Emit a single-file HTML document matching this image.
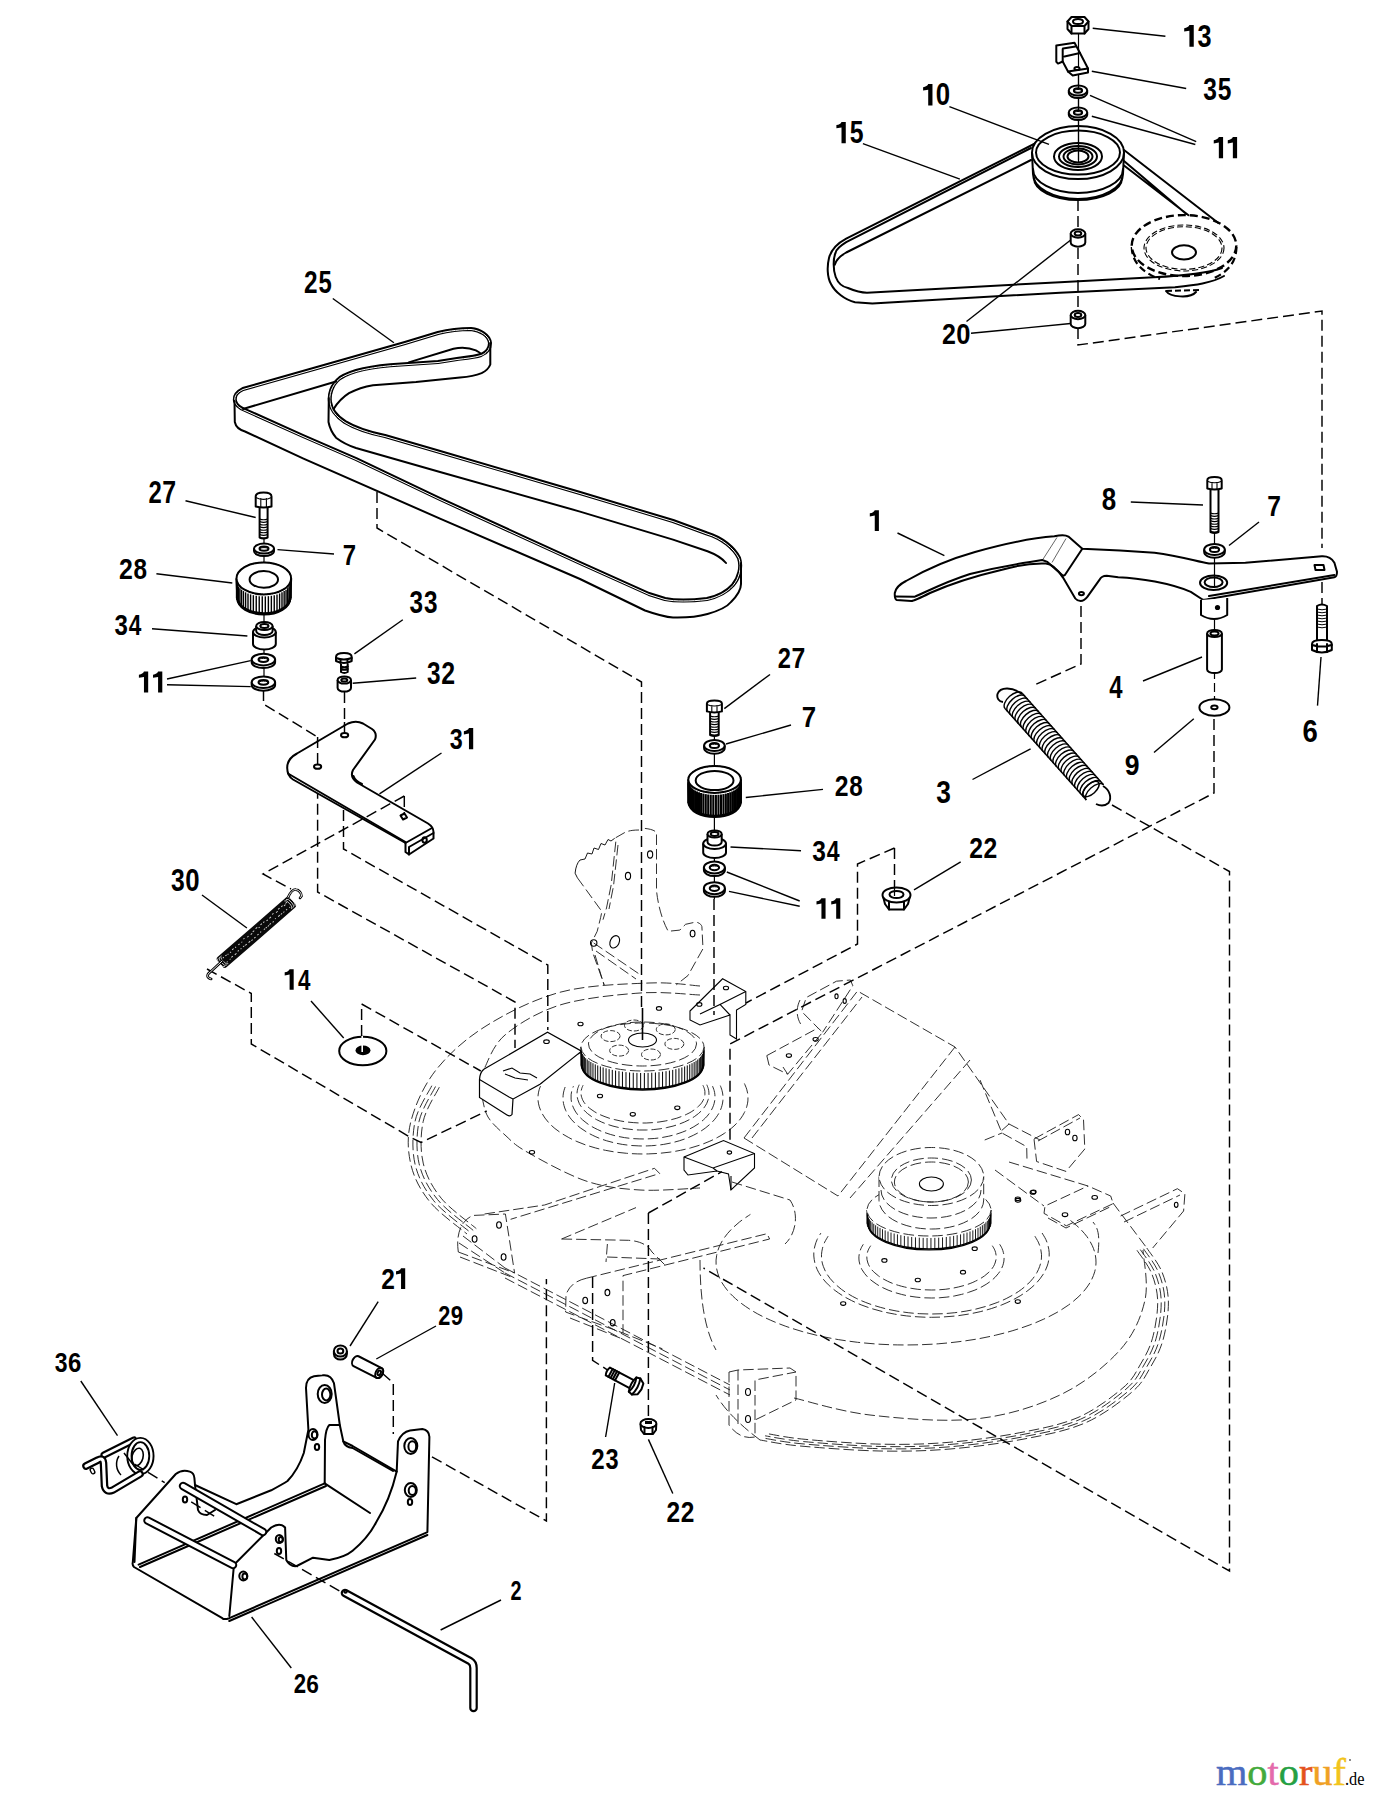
<!DOCTYPE html>
<html><head><meta charset="utf-8"><title>Parts diagram</title>
<style>
html,body{margin:0;padding:0;background:#fff;}
svg{display:block;}
.s{stroke:#000;stroke-width:2;fill:none;stroke-linejoin:round;stroke-linecap:round;}
.sw{stroke:#000;stroke-width:2;fill:#fff;stroke-linejoin:round;}
.t{stroke:#000;stroke-width:1.4;fill:none;}
.h{stroke:#000;stroke-width:1.1;fill:none;}
.d{stroke:#000;stroke-width:1.45;fill:none;stroke-dasharray:11 5;}
.p{stroke:#1a1a1a;stroke-width:0.9;fill:none;stroke-dasharray:10.5 4;}
.pw{stroke:#1a1a1a;stroke-width:0.9;fill:#fff;stroke-dasharray:10.5 4;}
text{font-family:"Liberation Sans",sans-serif;font-weight:bold;fill:#000;}
.logo{font-family:"Liberation Serif",serif;font-weight:normal;}
</style></head><body>
<svg width="1376" height="1800" viewBox="0 0 1376 1800">
<rect x="0" y="0" width="1376" height="1800" fill="#fff"/>
<g id="deck">
<path d="M700.0,986.0 C691.5,985.5 672.2,982.0 649.0,983.0 C625.8,984.0 588.2,984.8 561.0,992.0 C533.8,999.2 506.8,1013.0 486.0,1026.0 C465.2,1039.0 448.5,1054.2 436.0,1070.0 C423.5,1085.8 415.2,1105.2 411.0,1121.0 C406.8,1136.8 407.8,1151.5 411.0,1165.0 C414.2,1178.5 420.7,1190.5 430.0,1202.0 C439.3,1213.5 460.8,1228.7 467.0,1234.0" class="p"/>
<path d="M431.8,1085.7 C429.0,1091.6 417.8,1108.0 415.1,1121.1 C412.3,1134.2 412.0,1151.1 415.1,1164.4 C418.2,1177.6 424.6,1189.4 433.7,1200.7 C442.9,1212.0 464.0,1227.0 470.1,1232.2" class="p"/>
<path d="M435.5,1086.5 C432.8,1092.3 421.9,1108.4 419.1,1121.2 C416.4,1134.1 416.1,1150.7 419.1,1163.7 C422.2,1176.8 428.5,1188.4 437.5,1199.5 C446.5,1210.6 467.3,1225.2 473.2,1230.4" class="p"/>
<path d="M439.3,1087.2 C436.6,1092.9 425.9,1108.7 423.2,1121.4 C420.5,1134.0 420.2,1150.3 423.2,1163.1 C426.2,1175.9 432.4,1187.3 441.2,1198.2 C450.1,1209.1 470.5,1223.5 476.3,1228.6" class="p"/>
<path d="M700.0,995.0 C690.0,994.7 663.3,991.3 640.0,993.0 C616.7,994.7 582.5,998.0 560.0,1005.0 C537.5,1012.0 517.7,1024.3 505.0,1035.0 C492.3,1045.7 487.5,1063.3 484.0,1069.0" class="p"/>
<path d="M482.0,1097.0 C483.0,1100.3 484.2,1110.7 488.0,1117.0 C491.8,1123.3 498.5,1129.2 505.0,1135.0 C511.5,1140.8 513.5,1144.3 527.0,1152.0 C540.5,1159.7 567.2,1174.7 586.0,1181.0 C604.8,1187.3 621.0,1188.8 640.0,1190.0 C659.0,1191.2 690.0,1188.3 700.0,1188.0" class="p"/>
<path d="M1146.8,1248.0 C1149.3,1252.0 1158.4,1263.0 1162.0,1272.0 C1165.6,1281.0 1168.2,1290.7 1168.4,1302.0 C1168.6,1313.3 1166.1,1329.0 1163.0,1340.0 C1159.9,1351.0 1155.2,1359.3 1150.0,1368.0 C1144.8,1376.7 1142.8,1382.8 1132.0,1392.0 C1121.2,1401.2 1103.0,1415.2 1085.0,1423.0 C1067.0,1430.8 1046.5,1434.7 1024.0,1439.0 C1001.5,1443.3 974.0,1447.0 950.0,1449.0 C926.0,1451.0 905.0,1451.5 880.0,1451.0 C855.0,1450.5 820.0,1447.8 800.0,1446.0 C780.0,1444.2 766.7,1441.0 760.0,1440.0" class="p"/>
<path d="M1143.5,1248.8 C1146.0,1252.7 1155.0,1263.6 1158.5,1272.4 C1162.1,1281.3 1164.7,1290.8 1164.8,1302.0 C1165.0,1313.1 1162.5,1328.6 1159.5,1339.4 C1156.5,1350.2 1151.8,1358.4 1146.7,1367.0 C1141.6,1375.5 1139.6,1381.6 1129.0,1390.6 C1118.3,1399.6 1100.4,1413.4 1082.7,1421.2 C1064.9,1428.9 1044.8,1432.6 1022.6,1436.9 C1000.4,1441.2 973.3,1444.8 949.7,1446.8 C926.1,1448.7 905.4,1449.2 880.8,1448.7 C856.1,1448.2 821.7,1445.6 802.0,1443.8 C782.2,1442.0 769.1,1438.9 762.5,1437.9" class="p"/>
<path d="M1140.3,1249.6 C1142.8,1253.4 1151.5,1264.1 1155.0,1272.8 C1158.5,1281.6 1161.1,1290.9 1161.2,1301.9 C1161.4,1312.9 1159.0,1328.1 1156.0,1338.8 C1153.0,1349.5 1148.4,1357.6 1143.4,1366.0 C1138.4,1374.4 1136.4,1380.3 1125.9,1389.2 C1115.4,1398.1 1097.8,1411.7 1080.3,1419.3 C1062.9,1426.9 1043.0,1430.6 1021.2,1434.8 C999.4,1439.0 972.7,1442.6 949.4,1444.5 C926.1,1446.5 905.8,1447.0 881.5,1446.5 C857.2,1446.0 823.3,1443.4 803.9,1441.6 C784.5,1439.8 771.6,1436.8 765.1,1435.8" class="p"/>
<path d="M1137.0,1250.3 C1139.5,1254.2 1148.1,1264.7 1151.6,1273.3 C1155.0,1281.9 1157.5,1291.1 1157.7,1301.9 C1157.8,1312.7 1155.4,1327.7 1152.5,1338.2 C1149.6,1348.7 1145.0,1356.7 1140.1,1364.9 C1135.2,1373.2 1133.3,1379.1 1122.9,1387.9 C1112.6,1396.6 1095.2,1410.0 1078.0,1417.5 C1060.8,1424.9 1041.3,1428.6 1019.8,1432.7 C998.3,1436.9 972.0,1440.4 949.1,1442.3 C926.2,1444.2 906.1,1444.7 882.2,1444.2 C858.4,1443.7 825.0,1441.2 805.9,1439.4 C786.8,1437.7 774.0,1434.7 767.6,1433.7" class="p"/>
<path d="M505,1268 L730,1385" class="p"/>
<path d="M505,1273 L730,1390" class="p"/>
<path d="M505,1278 L730,1395" class="p"/>
<path d="M463,1236 L505,1268 M459,1243 L505,1273" class="p"/>
<path d="M729,1372 L729,1425 Q740,1440 755,1437 L755,1420 L796,1400 L796,1372 L790,1368 L738,1370 Z" class="p"/>
<path d="M738,1370 L738,1428 M755,1420 L755,1380 L796,1372" class="p"/>
<ellipse cx="748.0" cy="1392.0" rx="2.5" ry="3.5" class="h" />
<ellipse cx="748.0" cy="1419.0" rx="2.5" ry="3.5" class="h" />
<path d="M760,1440 C740,1425 725,1410 716,1395" class="p"/>
<path d="M744.4,1083.5 C744.8,1084.5 746.1,1087.3 746.7,1089.2 C747.3,1091.2 747.7,1093.1 747.9,1095.1 C748.0,1097.0 748.0,1099.0 747.9,1100.9 C747.7,1102.9 747.3,1104.8 746.7,1106.8 C746.1,1108.7 745.4,1110.6 744.4,1112.5 C743.5,1114.4 742.3,1116.2 741.0,1118.1 C739.7,1119.9 738.2,1121.7 736.6,1123.4 C734.9,1125.2 733.1,1126.9 731.1,1128.5 C729.1,1130.1 726.9,1131.7 724.6,1133.2 C722.3,1134.8 719.8,1136.2 717.2,1137.6 C714.7,1139.0 711.9,1140.3 709.1,1141.5 C706.2,1142.7 703.3,1143.9 700.2,1145.0 C697.1,1146.0 693.9,1147.0 690.7,1147.9 C687.4,1148.8 684.0,1149.6 680.6,1150.3 C677.2,1151.0 673.7,1151.6 670.2,1152.1 C666.6,1152.6 663.0,1153.0 659.4,1153.3 C655.8,1153.6 652.1,1153.8 648.5,1153.9 C644.8,1154.0 641.2,1154.0 637.5,1153.9 C633.9,1153.8 630.2,1153.6 626.6,1153.3 C623.0,1153.0 619.4,1152.6 615.8,1152.1 C612.3,1151.6 608.8,1151.0 605.4,1150.3 C602.0,1149.6 598.6,1148.8 595.3,1147.9 C592.1,1147.0 588.9,1146.0 585.8,1145.0 C582.7,1143.9 579.8,1142.7 576.9,1141.5 C574.1,1140.3 571.3,1139.0 568.8,1137.6 C566.2,1136.2 563.7,1134.8 561.4,1133.2 C559.1,1131.7 556.9,1130.1 554.9,1128.5 C552.9,1126.9 551.1,1125.2 549.4,1123.4 C547.8,1121.7 546.3,1119.9 545.0,1118.1 C543.7,1116.2 542.5,1114.4 541.6,1112.5 C540.6,1110.6 539.9,1108.7 539.3,1106.8 C538.7,1104.8 538.3,1102.9 538.1,1100.9 C538.0,1099.0 538.0,1097.0 538.1,1095.1 C538.3,1093.1 538.7,1091.2 539.3,1089.2 C539.9,1087.3 541.2,1084.5 541.6,1083.5" class="p"/>
<path d="M720.3,1085.6 C720.6,1086.4 721.6,1088.8 722.0,1090.5 C722.5,1092.1 722.7,1093.8 722.9,1095.5 C723.0,1097.2 723.0,1098.8 722.9,1100.5 C722.7,1102.2 722.5,1103.9 722.0,1105.5 C721.6,1107.2 721.0,1108.8 720.3,1110.4 C719.6,1112.0 718.7,1113.6 717.7,1115.2 C716.7,1116.8 715.5,1118.3 714.3,1119.8 C713.0,1121.3 711.6,1122.7 710.1,1124.1 C708.6,1125.5 706.9,1126.9 705.2,1128.2 C703.4,1129.5 701.5,1130.8 699.6,1131.9 C697.6,1133.1 695.5,1134.3 693.3,1135.3 C691.2,1136.4 688.9,1137.3 686.6,1138.3 C684.2,1139.2 681.8,1140.0 679.3,1140.8 C676.8,1141.5 674.3,1142.2 671.7,1142.8 C669.1,1143.4 666.4,1143.9 663.7,1144.4 C661.0,1144.8 658.3,1145.1 655.5,1145.4 C652.8,1145.7 650.0,1145.8 647.2,1145.9 C644.4,1146.0 641.6,1146.0 638.8,1145.9 C636.0,1145.8 633.2,1145.7 630.5,1145.4 C627.7,1145.1 625.0,1144.8 622.3,1144.4 C619.6,1143.9 616.9,1143.4 614.3,1142.8 C611.7,1142.2 609.2,1141.5 606.7,1140.8 C604.2,1140.0 601.8,1139.2 599.4,1138.3 C597.1,1137.3 594.8,1136.4 592.7,1135.3 C590.5,1134.3 588.4,1133.1 586.4,1131.9 C584.5,1130.8 582.6,1129.5 580.8,1128.2 C579.1,1126.9 577.4,1125.5 575.9,1124.1 C574.4,1122.7 573.0,1121.3 571.7,1119.8 C570.5,1118.3 569.3,1116.8 568.3,1115.2 C567.3,1113.6 566.4,1112.0 565.7,1110.4 C565.0,1108.8 564.4,1107.2 564.0,1105.5 C563.5,1103.9 563.3,1102.2 563.1,1100.5 C563.0,1098.8 563.0,1097.2 563.1,1095.5 C563.3,1093.8 563.5,1092.1 564.0,1090.5 C564.4,1088.8 565.4,1086.4 565.7,1085.6" class="p"/>
<path d="M712.5,1086.1 C712.8,1086.8 713.7,1089.0 714.1,1090.4 C714.5,1091.9 714.8,1093.3 714.9,1094.8 C715.0,1096.3 715.0,1097.7 714.9,1099.2 C714.8,1100.7 714.5,1102.1 714.1,1103.6 C713.7,1105.0 713.2,1106.5 712.5,1107.9 C711.9,1109.3 711.1,1110.7 710.2,1112.1 C709.3,1113.4 708.3,1114.8 707.2,1116.1 C706.0,1117.4 704.8,1118.6 703.4,1119.9 C702.0,1121.1 700.5,1122.3 699.0,1123.4 C697.4,1124.6 695.7,1125.7 693.9,1126.7 C692.1,1127.7 690.3,1128.7 688.3,1129.6 C686.4,1130.6 684.3,1131.4 682.2,1132.2 C680.1,1133.0 677.9,1133.8 675.7,1134.4 C673.5,1135.1 671.1,1135.7 668.8,1136.2 C666.5,1136.7 664.1,1137.2 661.6,1137.6 C659.2,1137.9 656.7,1138.3 654.3,1138.5 C651.8,1138.7 649.3,1138.9 646.8,1138.9 C644.3,1139.0 641.7,1139.0 639.2,1138.9 C636.7,1138.9 634.2,1138.7 631.7,1138.5 C629.3,1138.3 626.8,1137.9 624.4,1137.6 C621.9,1137.2 619.5,1136.7 617.2,1136.2 C614.9,1135.7 612.5,1135.1 610.3,1134.4 C608.1,1133.8 605.9,1133.0 603.8,1132.2 C601.7,1131.4 599.6,1130.6 597.7,1129.6 C595.7,1128.7 593.9,1127.7 592.1,1126.7 C590.3,1125.7 588.6,1124.6 587.0,1123.4 C585.5,1122.3 584.0,1121.1 582.6,1119.9 C581.2,1118.6 580.0,1117.4 578.8,1116.1 C577.7,1114.8 576.7,1113.4 575.8,1112.1 C574.9,1110.7 574.1,1109.3 573.5,1107.9 C572.8,1106.5 572.3,1105.0 571.9,1103.6 C571.5,1102.1 571.2,1100.7 571.1,1099.2 C571.0,1097.7 571.0,1096.3 571.1,1094.8 C571.2,1093.3 571.5,1091.9 571.9,1090.4 C572.3,1089.0 573.2,1086.8 573.5,1086.1" class="p"/>
<path d="M706.8,1084.7 C707.0,1085.3 707.8,1087.1 708.2,1088.4 C708.5,1089.6 708.8,1090.9 708.9,1092.1 C709.0,1093.4 709.0,1094.6 708.9,1095.9 C708.8,1097.1 708.5,1098.4 708.2,1099.6 C707.8,1100.9 707.3,1102.1 706.8,1103.3 C706.2,1104.5 705.4,1105.7 704.6,1106.9 C703.8,1108.1 702.9,1109.2 701.8,1110.3 C700.8,1111.5 699.6,1112.6 698.4,1113.6 C697.1,1114.7 695.7,1115.7 694.3,1116.7 C692.8,1117.6 691.3,1118.6 689.7,1119.5 C688.0,1120.3 686.3,1121.2 684.5,1122.0 C682.7,1122.8 680.9,1123.5 678.9,1124.2 C677.0,1124.9 675.0,1125.5 673.0,1126.1 C670.9,1126.6 668.8,1127.2 666.7,1127.6 C664.5,1128.1 662.3,1128.4 660.1,1128.8 C657.9,1129.1 655.6,1129.4 653.3,1129.6 C651.1,1129.8 648.8,1129.9 646.5,1130.0 C644.2,1130.0 641.8,1130.0 639.5,1130.0 C637.2,1129.9 634.9,1129.8 632.7,1129.6 C630.4,1129.4 628.1,1129.1 625.9,1128.8 C623.7,1128.4 621.5,1128.1 619.3,1127.6 C617.2,1127.2 615.1,1126.6 613.0,1126.1 C611.0,1125.5 609.0,1124.9 607.1,1124.2 C605.1,1123.5 603.3,1122.8 601.5,1122.0 C599.7,1121.2 598.0,1120.3 596.3,1119.5 C594.7,1118.6 593.2,1117.6 591.7,1116.7 C590.3,1115.7 588.9,1114.7 587.6,1113.6 C586.4,1112.6 585.2,1111.5 584.2,1110.3 C583.1,1109.2 582.2,1108.1 581.4,1106.9 C580.6,1105.7 579.8,1104.5 579.2,1103.3 C578.7,1102.1 578.2,1100.9 577.8,1099.6 C577.5,1098.4 577.2,1097.1 577.1,1095.9 C577.0,1094.6 577.0,1093.4 577.1,1092.1 C577.2,1090.9 577.5,1089.6 577.8,1088.4 C578.2,1087.1 579.0,1085.3 579.2,1084.7" class="p"/>
<path d="M702.9,1085.2 C703.1,1085.7 703.9,1087.3 704.2,1088.3 C704.6,1089.3 704.8,1090.4 704.9,1091.4 C705.0,1092.5 705.0,1093.5 704.9,1094.6 C704.8,1095.6 704.6,1096.7 704.2,1097.7 C703.9,1098.7 703.4,1099.8 702.9,1100.8 C702.3,1101.8 701.7,1102.8 700.9,1103.8 C700.1,1104.7 699.2,1105.7 698.2,1106.6 C697.3,1107.6 696.2,1108.5 695.0,1109.3 C693.8,1110.2 692.5,1111.1 691.2,1111.9 C689.8,1112.7 688.4,1113.5 686.8,1114.2 C685.3,1115.0 683.7,1115.7 682.0,1116.3 C680.3,1117.0 678.6,1117.6 676.8,1118.2 C675.0,1118.7 673.1,1119.3 671.1,1119.7 C669.2,1120.2 667.2,1120.6 665.2,1121.0 C663.2,1121.4 661.1,1121.7 659.0,1122.0 C657.0,1122.2 654.8,1122.5 652.7,1122.6 C650.6,1122.8 648.4,1122.9 646.2,1123.0 C644.1,1123.0 641.9,1123.0 639.8,1123.0 C637.6,1122.9 635.4,1122.8 633.3,1122.6 C631.2,1122.5 629.0,1122.2 627.0,1122.0 C624.9,1121.7 622.8,1121.4 620.8,1121.0 C618.8,1120.6 616.8,1120.2 614.9,1119.7 C612.9,1119.3 611.0,1118.7 609.2,1118.2 C607.4,1117.6 605.7,1117.0 604.0,1116.3 C602.3,1115.7 600.7,1115.0 599.2,1114.2 C597.6,1113.5 596.2,1112.7 594.8,1111.9 C593.5,1111.1 592.2,1110.2 591.0,1109.3 C589.8,1108.5 588.7,1107.6 587.8,1106.6 C586.8,1105.7 585.9,1104.7 585.1,1103.8 C584.3,1102.8 583.7,1101.8 583.1,1100.8 C582.6,1099.8 582.1,1098.7 581.8,1097.7 C581.4,1096.7 581.2,1095.6 581.1,1094.6 C581.0,1093.5 581.0,1092.5 581.1,1091.4 C581.2,1090.4 581.4,1089.3 581.8,1088.3 C582.1,1087.3 582.9,1085.7 583.1,1085.2" class="p"/>
<path d="M541.6,1083.5 C542.0,1082.7 543.3,1080.4 544.3,1078.8 C545.4,1077.3 546.5,1075.8 547.8,1074.3 C549.1,1072.9 550.5,1071.4 552.1,1070.0 C553.6,1068.6 555.2,1067.2 557.0,1065.9 C558.7,1064.5 560.6,1063.3 562.6,1062.0 C564.5,1060.8 566.6,1059.6 568.8,1058.4 C570.9,1057.3 573.2,1056.1 575.5,1055.1 C577.8,1054.1 581.6,1052.6 582.8,1052.1" class="p"/>
<path d="M1042.1,1233.0 C1042.7,1234.1 1044.8,1237.3 1045.8,1239.4 C1046.8,1241.6 1047.6,1243.8 1048.1,1246.0 C1048.7,1248.2 1049.0,1250.4 1049.2,1252.7 C1049.3,1254.9 1049.2,1257.1 1048.8,1259.4 C1048.5,1261.6 1048.0,1263.8 1047.2,1266.0 C1046.4,1268.2 1045.5,1270.4 1044.3,1272.5 C1043.1,1274.6 1041.6,1276.8 1040.0,1278.8 C1038.4,1280.9 1036.6,1282.9 1034.6,1284.8 C1032.5,1286.8 1030.3,1288.7 1027.9,1290.5 C1025.5,1292.3 1022.9,1294.1 1020.2,1295.8 C1017.4,1297.5 1014.5,1299.1 1011.4,1300.6 C1008.4,1302.1 1005.1,1303.5 1001.8,1304.9 C998.4,1306.2 994.9,1307.4 991.3,1308.6 C987.7,1309.7 984.0,1310.7 980.2,1311.7 C976.4,1312.6 972.5,1313.4 968.5,1314.1 C964.6,1314.8 960.5,1315.4 956.4,1315.9 C952.3,1316.3 948.2,1316.7 944.0,1316.9 C939.9,1317.2 935.7,1317.3 931.5,1317.3 C927.3,1317.3 923.1,1317.2 919.0,1316.9 C914.8,1316.7 910.7,1316.3 906.6,1315.9 C902.5,1315.4 898.4,1314.8 894.5,1314.1 C890.5,1313.4 886.6,1312.6 882.8,1311.7 C879.0,1310.7 875.3,1309.7 871.7,1308.6 C868.1,1307.4 864.6,1306.2 861.2,1304.9 C857.9,1303.5 854.6,1302.1 851.6,1300.6 C848.5,1299.1 845.6,1297.5 842.8,1295.8 C840.1,1294.1 837.5,1292.3 835.1,1290.5 C832.7,1288.7 830.5,1286.8 828.4,1284.8 C826.4,1282.9 824.6,1280.9 823.0,1278.8 C821.4,1276.8 819.9,1274.6 818.7,1272.5 C817.5,1270.4 816.6,1268.2 815.8,1266.0 C815.0,1263.8 814.5,1261.6 814.2,1259.4 C813.8,1257.1 813.7,1254.9 813.8,1252.7 C814.0,1250.4 814.3,1248.2 814.9,1246.0 C815.4,1243.8 816.2,1241.6 817.2,1239.4 C818.2,1237.3 820.3,1234.1 820.9,1233.0" class="p"/>
<path d="M1034.9,1236.2 C1035.4,1237.1 1037.3,1240.1 1038.3,1242.1 C1039.2,1244.1 1040.0,1246.1 1040.5,1248.2 C1041.0,1250.2 1041.3,1252.3 1041.5,1254.3 C1041.6,1256.4 1041.5,1258.4 1041.2,1260.5 C1040.9,1262.5 1040.4,1264.6 1039.6,1266.6 C1038.9,1268.6 1038.0,1270.7 1036.9,1272.6 C1035.8,1274.6 1034.4,1276.6 1032.9,1278.5 C1031.4,1280.4 1029.7,1282.2 1027.8,1284.0 C1025.9,1285.8 1023.8,1287.6 1021.6,1289.3 C1019.4,1291.0 1016.9,1292.6 1014.4,1294.1 C1011.8,1295.7 1009.1,1297.2 1006.2,1298.6 C1003.3,1300.0 1000.3,1301.3 997.2,1302.5 C994.1,1303.8 990.8,1304.9 987.4,1305.9 C984.1,1307.0 980.6,1307.9 977.0,1308.8 C973.5,1309.7 969.8,1310.4 966.1,1311.1 C962.4,1311.7 958.6,1312.2 954.8,1312.7 C951.0,1313.1 947.1,1313.5 943.2,1313.7 C939.3,1313.9 935.4,1314.0 931.5,1314.0 C927.6,1314.0 923.7,1313.9 919.8,1313.7 C915.9,1313.5 912.0,1313.1 908.2,1312.7 C904.4,1312.2 900.6,1311.7 896.9,1311.1 C893.2,1310.4 889.5,1309.7 886.0,1308.8 C882.4,1307.9 878.9,1307.0 875.6,1305.9 C872.2,1304.9 868.9,1303.8 865.8,1302.5 C862.7,1301.3 859.7,1300.0 856.8,1298.6 C853.9,1297.2 851.2,1295.7 848.6,1294.1 C846.1,1292.6 843.6,1291.0 841.4,1289.3 C839.2,1287.6 837.1,1285.8 835.2,1284.0 C833.3,1282.2 831.6,1280.4 830.1,1278.5 C828.6,1276.6 827.2,1274.6 826.1,1272.6 C825.0,1270.7 824.1,1268.6 823.4,1266.6 C822.6,1264.6 822.1,1262.5 821.8,1260.5 C821.5,1258.4 821.4,1256.4 821.5,1254.3 C821.7,1252.3 822.0,1250.2 822.5,1248.2 C823.0,1246.1 823.8,1244.1 824.7,1242.1 C825.7,1240.1 827.6,1237.1 828.1,1236.2" class="p"/>
<path d="M999.7,1244.3 C1000.1,1245.0 1001.4,1247.0 1002.0,1248.4 C1002.6,1249.8 1003.1,1251.2 1003.4,1252.6 C1003.8,1254.0 1004.0,1255.4 1004.1,1256.8 C1004.1,1258.3 1004.1,1259.7 1003.9,1261.1 C1003.7,1262.5 1003.3,1263.9 1002.9,1265.3 C1002.4,1266.7 1001.8,1268.1 1001.1,1269.5 C1000.3,1270.8 999.4,1272.2 998.4,1273.5 C997.4,1274.8 996.3,1276.1 995.1,1277.3 C993.8,1278.6 992.4,1279.8 991.0,1280.9 C989.5,1282.1 987.9,1283.2 986.2,1284.3 C984.5,1285.4 982.7,1286.4 980.8,1287.4 C978.9,1288.3 976.9,1289.2 974.9,1290.1 C972.8,1290.9 970.6,1291.7 968.4,1292.4 C966.2,1293.2 963.9,1293.8 961.5,1294.4 C959.2,1295.0 956.8,1295.5 954.3,1296.0 C951.9,1296.4 949.4,1296.8 946.9,1297.1 C944.4,1297.4 941.8,1297.6 939.2,1297.8 C936.7,1297.9 934.1,1298.0 931.5,1298.0 C928.9,1298.0 926.3,1297.9 923.8,1297.8 C921.2,1297.6 918.6,1297.4 916.1,1297.1 C913.6,1296.8 911.1,1296.4 908.7,1296.0 C906.2,1295.5 903.8,1295.0 901.5,1294.4 C899.1,1293.8 896.8,1293.2 894.6,1292.4 C892.4,1291.7 890.2,1290.9 888.1,1290.1 C886.1,1289.2 884.1,1288.3 882.2,1287.4 C880.3,1286.4 878.5,1285.4 876.8,1284.3 C875.1,1283.2 873.5,1282.1 872.0,1280.9 C870.6,1279.8 869.2,1278.6 867.9,1277.3 C866.7,1276.1 865.6,1274.8 864.6,1273.5 C863.6,1272.2 862.7,1270.8 861.9,1269.5 C861.2,1268.1 860.6,1266.7 860.1,1265.3 C859.7,1263.9 859.3,1262.5 859.1,1261.1 C858.9,1259.7 858.9,1258.3 858.9,1256.8 C859.0,1255.4 859.2,1254.0 859.6,1252.6 C859.9,1251.2 860.4,1249.8 861.0,1248.4 C861.6,1247.0 862.9,1245.0 863.3,1244.3" class="p"/>
<path d="M992.3,1245.7 C992.6,1246.3 993.8,1247.9 994.3,1249.1 C994.9,1250.2 995.3,1251.4 995.6,1252.5 C995.9,1253.7 996.1,1254.9 996.2,1256.0 C996.2,1257.2 996.2,1258.4 996.0,1259.6 C995.8,1260.7 995.5,1261.9 995.1,1263.0 C994.7,1264.2 994.1,1265.3 993.5,1266.5 C992.8,1267.6 992.0,1268.7 991.2,1269.8 C990.3,1270.9 989.3,1271.9 988.1,1272.9 C987.0,1274.0 985.8,1275.0 984.5,1275.9 C983.2,1276.9 981.8,1277.8 980.2,1278.7 C978.7,1279.6 977.1,1280.4 975.4,1281.2 C973.8,1282.0 972.0,1282.8 970.1,1283.5 C968.3,1284.2 966.4,1284.8 964.4,1285.4 C962.4,1286.0 960.4,1286.6 958.3,1287.0 C956.2,1287.5 954.0,1288.0 951.9,1288.3 C949.7,1288.7 947.4,1289.0 945.2,1289.3 C943.0,1289.5 940.7,1289.7 938.4,1289.8 C936.1,1289.9 933.8,1290.0 931.5,1290.0 C929.2,1290.0 926.9,1289.9 924.6,1289.8 C922.3,1289.7 920.0,1289.5 917.8,1289.3 C915.6,1289.0 913.3,1288.7 911.1,1288.3 C909.0,1288.0 906.8,1287.5 904.7,1287.0 C902.6,1286.6 900.6,1286.0 898.6,1285.4 C896.6,1284.8 894.7,1284.2 892.9,1283.5 C891.0,1282.8 889.2,1282.0 887.6,1281.2 C885.9,1280.4 884.3,1279.6 882.8,1278.7 C881.2,1277.8 879.8,1276.9 878.5,1275.9 C877.2,1275.0 876.0,1274.0 874.9,1272.9 C873.7,1271.9 872.7,1270.9 871.8,1269.8 C871.0,1268.7 870.2,1267.6 869.5,1266.5 C868.9,1265.3 868.3,1264.2 867.9,1263.0 C867.5,1261.9 867.2,1260.7 867.0,1259.6 C866.8,1258.4 866.8,1257.2 866.8,1256.0 C866.9,1254.9 867.1,1253.7 867.4,1252.5 C867.7,1251.4 868.1,1250.2 868.7,1249.1 C869.2,1247.9 870.4,1246.3 870.7,1245.7" class="p"/>
<path d="M1070.5,1220.5 C1072.1,1221.8 1077.0,1225.7 1079.7,1228.4 C1082.5,1231.1 1084.9,1233.9 1087.0,1236.7 C1089.0,1239.5 1090.7,1242.4 1092.1,1245.3 C1093.5,1248.2 1094.5,1251.1 1095.1,1254.0 C1095.8,1257.0 1096.1,1260.0 1096.0,1262.9 C1095.9,1265.9 1095.5,1268.8 1094.7,1271.8 C1093.9,1274.7 1092.7,1277.6 1091.2,1280.5 C1089.7,1283.4 1087.8,1286.2 1085.6,1289.0 C1083.4,1291.8 1080.9,1294.6 1078.0,1297.2 C1075.2,1299.9 1071.9,1302.5 1068.4,1305.1 C1064.9,1307.6 1061.1,1310.0 1057.0,1312.4 C1052.9,1314.7 1048.5,1317.0 1043.8,1319.1 C1039.2,1321.3 1034.2,1323.3 1029.1,1325.2 C1023.9,1327.1 1018.5,1328.9 1012.9,1330.6 C1007.3,1332.3 1001.5,1333.8 995.6,1335.2 C989.6,1336.6 983.4,1337.9 977.2,1339.0 C970.9,1340.1 964.5,1341.0 958.0,1341.8 C951.5,1342.6 944.8,1343.3 938.2,1343.8 C931.5,1344.3 924.8,1344.6 918.0,1344.8 C911.3,1345.0 904.5,1345.0 897.7,1344.9 C891.0,1344.8 884.2,1344.5 877.5,1344.1 C870.8,1343.6 864.2,1343.0 857.6,1342.3 C851.1,1341.5 844.6,1340.6 838.3,1339.6 C832.0,1338.5 825.8,1337.3 819.7,1336.0 C813.7,1334.6 807.8,1333.1 802.2,1331.5 C796.5,1329.9 791.0,1328.1 785.8,1326.3 C780.6,1324.4 775.5,1322.4 770.8,1320.3 C766.0,1318.2 761.5,1316.0 757.3,1313.7 C753.1,1311.4 749.2,1308.9 745.5,1306.4 C741.9,1303.9 738.6,1301.4 735.6,1298.7 C732.6,1296.1 729.9,1293.3 727.6,1290.6 C725.3,1287.8 723.3,1284.9 721.6,1282.1 C720.0,1279.2 718.7,1276.3 717.8,1273.4 C716.9,1270.4 716.3,1267.5 716.1,1264.5 C715.9,1261.6 716.0,1258.6 716.6,1255.7 C717.1,1252.7 718.0,1249.8 719.2,1246.9 C720.4,1244.0 722.0,1241.1 723.9,1238.3 C725.9,1235.4 728.2,1232.6 730.8,1229.9 C733.4,1227.2 736.4,1224.5 739.6,1221.9 C742.9,1219.3 748.6,1215.6 750.4,1214.4" class="p"/>
<path d="M794.0,1398.0 C806.7,1400.8 839.8,1411.5 870.0,1415.0 C900.2,1418.5 943.3,1422.3 975.0,1419.0 C1006.7,1415.7 1035.8,1406.5 1060.0,1395.0 C1084.2,1383.5 1105.8,1365.8 1120.0,1350.0 C1134.2,1334.2 1141.2,1316.7 1145.0,1300.0 C1148.8,1283.3 1143.3,1258.3 1143.0,1250.0" class="p"/>
<path d="M744,1138 L857.5,991 L955,1047 L1009,1124 L1000,1132 M955,1047 L838,1196 M744,1138 L838,1196" class="p"/>
<path d="M752,1138 L862,997 M970,1060 L850,1198" class="p"/>
<path d="M1009,1124 L1040,1140 M1113,1203 L1146.8,1248" class="p"/>
<path d="M766.8,1055.6 L769,1065 L787.7,1074.2 L822.6,1032.3 L818,1028 L801.6,1011.4 L806.3,997.5 L836.5,981.2 L850.5,980 L852.8,985.8 L822.6,1032.3" class="p"/>
<path d="M766.8,1055.6 L805,1035 L818,1028 M783,1067 L787.7,1074.2" class="p"/>
<ellipse cx="788.9" cy="1055.6" rx="2.6" ry="1.8" class="h" />
<ellipse cx="815.6" cy="1039.3" rx="2.6" ry="1.8" class="h" />
<ellipse cx="836.5" cy="996.3" rx="1.6" ry="2.4" class="h" />
<ellipse cx="844.7" cy="1001.0" rx="1.6" ry="2.4" class="h" />
<path d="M800,1000 C796,1008 796,1018 802,1026" class="p"/>
<path d="M1034,1139 L1078.6,1114.6 L1083.5,1119.5 L1084.8,1149 L1066,1171.4 L1036.6,1161.5 Z" class="p"/>
<path d="M1038,1141 L1080,1118" class="p"/>
<ellipse cx="1067.5" cy="1132.0" rx="2.2" ry="2.8" class="h" />
<ellipse cx="1074.9" cy="1138.0" rx="2.2" ry="2.8" class="h" />
<path d="M980,1080 L1002,1133 L1026.7,1146.7 L1027,1160 M984.7,1140 L1002,1133" class="p"/>
<path d="M1009,1162 L1088,1186 L1110.7,1196 L1113.2,1203.6 L1066.3,1225.8 L1044,1213.4 L1045,1206 L1088,1186 M995,1170 L1044,1206" class="p"/>
<path d="M1048,1218 L1066,1228 L1112,1206" class="p"/>
<ellipse cx="1032.9" cy="1192.4" rx="2.8" ry="1.9" class="h" />
<ellipse cx="1018.0" cy="1200.3" rx="2.8" ry="1.9" class="h" />
<ellipse cx="1094.7" cy="1197.4" rx="2.8" ry="1.9" class="h" />
<ellipse cx="1065.0" cy="1214.7" rx="2.8" ry="1.9" class="h" />
<path d="M1120.6,1216 L1177.4,1188.7 L1184.9,1193.7 L1183.6,1211 L1152.7,1248 M1124,1222 L1180,1195" class="p"/>
<ellipse cx="1176.2" cy="1204.8" rx="1.8" ry="2.6" class="h" />
<path d="M1098,1253 C1100,1235 1098,1228 1093,1222" class="p"/>
<path d="M639,830 C632,830 628,831 625,832.4 L614.7,838.3" class="p"/>
<path d="M614.7,838.3 L611,841 L608,839.5 L605,845 L601,843.5 L598.5,849.5 L594,848 L592,854 L587.5,853 L585,859 L580,860 Q576,864 575.1,873.2 L577.4,877.8" stroke="#000" stroke-width="0.9" fill="none"/>
<path d="M577.4,877.8 L601.9,911.5 L600.7,917.3 L597.2,931.3 L591.4,943 L592.6,952.2 L604.2,984.8" class="p"/>
<path d="M615.8,841.7 L611.2,884.8 L606.5,908 L603,919.7 M618,845 L613.5,886 L609,909" class="p"/>
<path d="M644.9,828.4 C650,829 654,830 656.5,832.4 L656.5,890.6 C658,905 662,920 668.2,931.3 L679.8,930.1 L685.6,924.3 L696,922 C700,923 701.5,925 701.9,926.6 L703,948.7 L688,975.5 L676.3,984.8" class="p"/>
<ellipse cx="650.1" cy="854.5" rx="2.6" ry="3.6" class="h" />
<ellipse cx="628.0" cy="876.0" rx="2.6" ry="3.6" class="h" />
<ellipse cx="692.6" cy="933.6" rx="2.4" ry="3.3" class="h" />
<ellipse cx="614.7" cy="941.8" rx="4.5" ry="6.5" transform="rotate(25 614.7 941.8)" class="h"/>
<path d="M593.7,943 L641.4,975.5 M596,951 L636,979 M595,955 L604,985" class="p"/>
<circle cx="593.7" cy="943" r="3.2" class="h"/>
<path d="M479.5,1079.5 Q480,1072 484.2,1069.1 L547.5,1032.3 L581.5,1051.2 L540,1084.3 L513,1099 L512,1114.5 Q510,1117 507,1115 L479.5,1097.5 Z" fill="#fff" stroke="#000" stroke-width="1.2"/>
<path d="M479.5,1079.5 L509,1097 Q511,1098 513,1099" class="h"/>
<ellipse cx="546.5" cy="1041.7" rx="2.8" ry="1.8" class="h" />
<path d="M503,1071 L512,1068 L520,1073 L530,1074 L537,1078 M505,1074 L515,1078 L528,1080" class="h"/>
<path d="M684,1157 L723.5,1140.5 L754.5,1153.5 L754.5,1168 L731,1190 L728.5,1174 L717,1171 L688,1175 L684,1170 Z" fill="#fff" stroke="#000" stroke-width="1.1"/>
<path d="M684,1157 L713,1168 L754.5,1153.5 M713,1168 L717,1171 M731,1190 L731,1176" class="h"/>
<ellipse cx="729.4" cy="1152.5" rx="2.2" ry="1.6" class="h" />
<path d="M690,1011 L722.6,978.8 L745.8,991.6 L745.8,1004.4 L736.5,1010 L736.5,1039 L730,1035 L730,1015 L700,1025 L690,1020 Z" fill="#fff" stroke="#000" stroke-width="1.1"/>
<path d="M720,1004.4 L745.8,991.6 M700,1014 L720,1004.4 L730,1015" class="h"/>
<ellipse cx="726.0" cy="988.0" rx="2.6" ry="1.8" class="h" />
<ellipse cx="699.3" cy="1004.4" rx="2.6" ry="1.8" class="h" />
<path d="M474,1215.4 L505.4,1214 L514.6,1273 M458.3,1252 Q456,1236 462,1225 Q467,1217 474,1215.4 M458.3,1252 L514.6,1273" class="p"/>
<path d="M460,1257 L514,1278 M484.5,1214 L544.6,1205 L607.4,1184 L654.5,1168.3 L659.7,1173.5 L510.6,1219.3" class="p"/>
<ellipse cx="474.6" cy="1239.0" rx="2.4" ry="3.2" class="h" />
<ellipse cx="499.0" cy="1225.0" rx="2.4" ry="3.2" class="h" />
<ellipse cx="503.6" cy="1257.0" rx="2.4" ry="3.2" class="h" />
<path d="M586.5,1278.2 L767,1233.7 L769.6,1239 L623,1275.6 L623,1333 M586.5,1278.2 Q570,1282 566,1295 L565.6,1312 L623,1333 L662.4,1348.8 M570,1318 L620,1338" class="p"/>
<ellipse cx="585.2" cy="1300.4" rx="2.4" ry="3.2" class="h" />
<ellipse cx="607.4" cy="1292.6" rx="2.4" ry="3.2" class="h" />
<ellipse cx="612.7" cy="1322.7" rx="2.4" ry="3.2" class="h" />
<path d="M561.6,1239 L636,1207.6 M561.6,1239 L628.4,1240.3 C640,1241 648,1245 652,1252 L665,1265 M607,1257 L660,1259 M607.4,1244 L606,1262" class="p"/>
<path d="M700,1260 C700,1300 705,1330 716,1350" class="p"/>
<path d="M732,1182 L790,1200 C800,1215 795,1235 785,1244" class="p"/>
<path d="M581.0,1047.0 L582.0,1066.0 A60.5,24.0 0 0 0 703.0,1066.0 L704.0,1047.0" fill="#fff" stroke="#000" stroke-width="1.4"/>
<line x1="581.03" y1="1049.72" x2="581.03" y2="1065.72" stroke="#000" stroke-width="1.0"/>
<line x1="581.25" y1="1051.17" x2="581.25" y2="1067.17" stroke="#000" stroke-width="1.0"/>
<line x1="581.70" y1="1052.61" x2="581.70" y2="1068.61" stroke="#000" stroke-width="1.0"/>
<line x1="582.37" y1="1054.04" x2="582.37" y2="1070.04" stroke="#000" stroke-width="1.0"/>
<line x1="583.26" y1="1055.44" x2="583.26" y2="1071.44" stroke="#000" stroke-width="1.0"/>
<line x1="584.36" y1="1056.83" x2="584.36" y2="1072.83" stroke="#000" stroke-width="1.0"/>
<line x1="585.68" y1="1058.18" x2="585.68" y2="1074.18" stroke="#000" stroke-width="1.0"/>
<line x1="587.21" y1="1059.51" x2="587.21" y2="1075.51" stroke="#000" stroke-width="1.0"/>
<line x1="588.93" y1="1060.79" x2="588.93" y2="1076.79" stroke="#000" stroke-width="1.0"/>
<line x1="590.85" y1="1062.03" x2="590.85" y2="1078.03" stroke="#000" stroke-width="1.0"/>
<line x1="592.96" y1="1063.22" x2="592.96" y2="1079.22" stroke="#000" stroke-width="1.0"/>
<line x1="595.26" y1="1064.37" x2="595.26" y2="1080.37" stroke="#000" stroke-width="1.0"/>
<line x1="597.72" y1="1065.45" x2="597.72" y2="1081.45" stroke="#000" stroke-width="1.0"/>
<line x1="600.35" y1="1066.48" x2="600.35" y2="1082.48" stroke="#000" stroke-width="1.0"/>
<line x1="603.13" y1="1067.44" x2="603.13" y2="1083.44" stroke="#000" stroke-width="1.0"/>
<line x1="606.05" y1="1068.33" x2="606.05" y2="1084.33" stroke="#000" stroke-width="1.0"/>
<line x1="609.11" y1="1069.15" x2="609.11" y2="1085.15" stroke="#000" stroke-width="1.0"/>
<line x1="612.29" y1="1069.90" x2="612.29" y2="1085.90" stroke="#000" stroke-width="1.0"/>
<line x1="615.58" y1="1070.58" x2="615.58" y2="1086.58" stroke="#000" stroke-width="1.0"/>
<line x1="618.96" y1="1071.17" x2="618.96" y2="1087.17" stroke="#000" stroke-width="1.0"/>
<line x1="622.44" y1="1071.69" x2="622.44" y2="1087.69" stroke="#000" stroke-width="1.0"/>
<line x1="625.99" y1="1072.12" x2="625.99" y2="1088.12" stroke="#000" stroke-width="1.0"/>
<line x1="629.59" y1="1072.47" x2="629.59" y2="1088.47" stroke="#000" stroke-width="1.0"/>
<line x1="633.25" y1="1072.73" x2="633.25" y2="1088.73" stroke="#000" stroke-width="1.0"/>
<line x1="636.93" y1="1072.90" x2="636.93" y2="1088.90" stroke="#000" stroke-width="1.0"/>
<line x1="640.64" y1="1072.99" x2="640.64" y2="1088.99" stroke="#000" stroke-width="1.0"/>
<line x1="644.36" y1="1072.99" x2="644.36" y2="1088.99" stroke="#000" stroke-width="1.0"/>
<line x1="648.07" y1="1072.90" x2="648.07" y2="1088.90" stroke="#000" stroke-width="1.0"/>
<line x1="651.75" y1="1072.73" x2="651.75" y2="1088.73" stroke="#000" stroke-width="1.0"/>
<line x1="655.41" y1="1072.47" x2="655.41" y2="1088.47" stroke="#000" stroke-width="1.0"/>
<line x1="659.01" y1="1072.12" x2="659.01" y2="1088.12" stroke="#000" stroke-width="1.0"/>
<line x1="662.56" y1="1071.69" x2="662.56" y2="1087.69" stroke="#000" stroke-width="1.0"/>
<line x1="666.04" y1="1071.17" x2="666.04" y2="1087.17" stroke="#000" stroke-width="1.0"/>
<line x1="669.42" y1="1070.58" x2="669.42" y2="1086.58" stroke="#000" stroke-width="1.0"/>
<line x1="672.71" y1="1069.90" x2="672.71" y2="1085.90" stroke="#000" stroke-width="1.0"/>
<line x1="675.89" y1="1069.15" x2="675.89" y2="1085.15" stroke="#000" stroke-width="1.0"/>
<line x1="678.95" y1="1068.33" x2="678.95" y2="1084.33" stroke="#000" stroke-width="1.0"/>
<line x1="681.87" y1="1067.44" x2="681.87" y2="1083.44" stroke="#000" stroke-width="1.0"/>
<line x1="684.65" y1="1066.48" x2="684.65" y2="1082.48" stroke="#000" stroke-width="1.0"/>
<line x1="687.28" y1="1065.45" x2="687.28" y2="1081.45" stroke="#000" stroke-width="1.0"/>
<line x1="689.74" y1="1064.37" x2="689.74" y2="1080.37" stroke="#000" stroke-width="1.0"/>
<line x1="692.04" y1="1063.22" x2="692.04" y2="1079.22" stroke="#000" stroke-width="1.0"/>
<line x1="694.15" y1="1062.03" x2="694.15" y2="1078.03" stroke="#000" stroke-width="1.0"/>
<line x1="696.07" y1="1060.79" x2="696.07" y2="1076.79" stroke="#000" stroke-width="1.0"/>
<line x1="697.79" y1="1059.51" x2="697.79" y2="1075.51" stroke="#000" stroke-width="1.0"/>
<line x1="699.32" y1="1058.18" x2="699.32" y2="1074.18" stroke="#000" stroke-width="1.0"/>
<line x1="700.64" y1="1056.83" x2="700.64" y2="1072.83" stroke="#000" stroke-width="1.0"/>
<line x1="701.74" y1="1055.44" x2="701.74" y2="1071.44" stroke="#000" stroke-width="1.0"/>
<line x1="702.63" y1="1054.04" x2="702.63" y2="1070.04" stroke="#000" stroke-width="1.0"/>
<line x1="703.30" y1="1052.61" x2="703.30" y2="1068.61" stroke="#000" stroke-width="1.0"/>
<line x1="703.75" y1="1051.17" x2="703.75" y2="1067.17" stroke="#000" stroke-width="1.0"/>
<line x1="703.97" y1="1049.72" x2="703.97" y2="1065.72" stroke="#000" stroke-width="1.0"/>
<path d="M582.0,1065.0 A60.5,24.0 0 0 0 703.0,1065.0" stroke="#000" stroke-width="1.5999999999999999" fill="none"/>
<ellipse cx="642.5" cy="1047.0" rx="61.5" ry="24.0" class="pw" />
<ellipse cx="642.5" cy="1044" rx="54" ry="22" class="p"/>
<ellipse cx="674.4" cy="1043.9" rx="9.5" ry="5.5" fill="none" stroke="#000" stroke-width="0.8" stroke-dasharray="5 2"/>
<ellipse cx="651.0" cy="1054.5" rx="9.5" ry="5.5" fill="none" stroke="#000" stroke-width="0.8" stroke-dasharray="5 2"/>
<ellipse cx="619.2" cy="1050.6" rx="9.5" ry="5.5" fill="none" stroke="#000" stroke-width="0.8" stroke-dasharray="5 2"/>
<ellipse cx="610.6" cy="1036.1" rx="9.5" ry="5.5" fill="none" stroke="#000" stroke-width="0.8" stroke-dasharray="5 2"/>
<ellipse cx="634.0" cy="1025.5" rx="9.5" ry="5.5" fill="none" stroke="#000" stroke-width="0.8" stroke-dasharray="5 2"/>
<ellipse cx="665.8" cy="1029.4" rx="9.5" ry="5.5" fill="none" stroke="#000" stroke-width="0.8" stroke-dasharray="5 2"/>
<ellipse cx="642.5" cy="1040" rx="14" ry="7" class="h"/>
<path d="M642.5,1008 L642.5,1040" stroke="#000" stroke-width="1.6"/>
<path d="M867.0,1210.0 L868.0,1224.0 A61.0,26.0 0 0 0 990.0,1224.0 L991.0,1210.0" fill="#fff" stroke="#000" stroke-width="1.2"/>
<line x1="867.03" y1="1212.82" x2="867.03" y2="1223.82" stroke="#000" stroke-width="0.9"/>
<line x1="867.28" y1="1214.45" x2="867.28" y2="1225.45" stroke="#000" stroke-width="0.9"/>
<line x1="867.76" y1="1216.07" x2="867.76" y2="1227.07" stroke="#000" stroke-width="0.9"/>
<line x1="868.49" y1="1217.67" x2="868.49" y2="1228.67" stroke="#000" stroke-width="0.9"/>
<line x1="869.46" y1="1219.25" x2="869.46" y2="1230.25" stroke="#000" stroke-width="0.9"/>
<line x1="870.67" y1="1220.81" x2="870.67" y2="1231.81" stroke="#000" stroke-width="0.9"/>
<line x1="872.10" y1="1222.33" x2="872.10" y2="1233.33" stroke="#000" stroke-width="0.9"/>
<line x1="873.76" y1="1223.80" x2="873.76" y2="1234.80" stroke="#000" stroke-width="0.9"/>
<line x1="875.63" y1="1225.24" x2="875.63" y2="1236.24" stroke="#000" stroke-width="0.9"/>
<line x1="877.72" y1="1226.61" x2="877.72" y2="1237.61" stroke="#000" stroke-width="0.9"/>
<line x1="880.01" y1="1227.94" x2="880.01" y2="1238.94" stroke="#000" stroke-width="0.9"/>
<line x1="882.49" y1="1229.19" x2="882.49" y2="1240.19" stroke="#000" stroke-width="0.9"/>
<line x1="885.16" y1="1230.38" x2="885.16" y2="1241.38" stroke="#000" stroke-width="0.9"/>
<line x1="888.00" y1="1231.50" x2="888.00" y2="1242.50" stroke="#000" stroke-width="0.9"/>
<line x1="891.00" y1="1232.54" x2="891.00" y2="1243.54" stroke="#000" stroke-width="0.9"/>
<line x1="894.15" y1="1233.50" x2="894.15" y2="1244.50" stroke="#000" stroke-width="0.9"/>
<line x1="897.44" y1="1234.38" x2="897.44" y2="1245.38" stroke="#000" stroke-width="0.9"/>
<line x1="900.85" y1="1235.17" x2="900.85" y2="1246.17" stroke="#000" stroke-width="0.9"/>
<line x1="904.38" y1="1235.86" x2="904.38" y2="1246.86" stroke="#000" stroke-width="0.9"/>
<line x1="908.00" y1="1236.46" x2="908.00" y2="1247.46" stroke="#000" stroke-width="0.9"/>
<line x1="911.70" y1="1236.97" x2="911.70" y2="1247.97" stroke="#000" stroke-width="0.9"/>
<line x1="915.48" y1="1237.37" x2="915.48" y2="1248.37" stroke="#000" stroke-width="0.9"/>
<line x1="919.30" y1="1237.68" x2="919.30" y2="1248.68" stroke="#000" stroke-width="0.9"/>
<line x1="923.17" y1="1237.88" x2="923.17" y2="1248.88" stroke="#000" stroke-width="0.9"/>
<line x1="927.05" y1="1237.99" x2="927.05" y2="1248.99" stroke="#000" stroke-width="0.9"/>
<line x1="930.95" y1="1237.99" x2="930.95" y2="1248.99" stroke="#000" stroke-width="0.9"/>
<line x1="934.83" y1="1237.88" x2="934.83" y2="1248.88" stroke="#000" stroke-width="0.9"/>
<line x1="938.70" y1="1237.68" x2="938.70" y2="1248.68" stroke="#000" stroke-width="0.9"/>
<line x1="942.52" y1="1237.37" x2="942.52" y2="1248.37" stroke="#000" stroke-width="0.9"/>
<line x1="946.30" y1="1236.97" x2="946.30" y2="1247.97" stroke="#000" stroke-width="0.9"/>
<line x1="950.00" y1="1236.46" x2="950.00" y2="1247.46" stroke="#000" stroke-width="0.9"/>
<line x1="953.62" y1="1235.86" x2="953.62" y2="1246.86" stroke="#000" stroke-width="0.9"/>
<line x1="957.15" y1="1235.17" x2="957.15" y2="1246.17" stroke="#000" stroke-width="0.9"/>
<line x1="960.56" y1="1234.38" x2="960.56" y2="1245.38" stroke="#000" stroke-width="0.9"/>
<line x1="963.85" y1="1233.50" x2="963.85" y2="1244.50" stroke="#000" stroke-width="0.9"/>
<line x1="967.00" y1="1232.54" x2="967.00" y2="1243.54" stroke="#000" stroke-width="0.9"/>
<line x1="970.00" y1="1231.50" x2="970.00" y2="1242.50" stroke="#000" stroke-width="0.9"/>
<line x1="972.84" y1="1230.38" x2="972.84" y2="1241.38" stroke="#000" stroke-width="0.9"/>
<line x1="975.51" y1="1229.19" x2="975.51" y2="1240.19" stroke="#000" stroke-width="0.9"/>
<line x1="977.99" y1="1227.94" x2="977.99" y2="1238.94" stroke="#000" stroke-width="0.9"/>
<line x1="980.28" y1="1226.61" x2="980.28" y2="1237.61" stroke="#000" stroke-width="0.9"/>
<line x1="982.37" y1="1225.24" x2="982.37" y2="1236.24" stroke="#000" stroke-width="0.9"/>
<line x1="984.24" y1="1223.80" x2="984.24" y2="1234.80" stroke="#000" stroke-width="0.9"/>
<line x1="985.90" y1="1222.33" x2="985.90" y2="1233.33" stroke="#000" stroke-width="0.9"/>
<line x1="987.33" y1="1220.81" x2="987.33" y2="1231.81" stroke="#000" stroke-width="0.9"/>
<line x1="988.54" y1="1219.25" x2="988.54" y2="1230.25" stroke="#000" stroke-width="0.9"/>
<line x1="989.51" y1="1217.67" x2="989.51" y2="1228.67" stroke="#000" stroke-width="0.9"/>
<line x1="990.24" y1="1216.07" x2="990.24" y2="1227.07" stroke="#000" stroke-width="0.9"/>
<line x1="990.72" y1="1214.45" x2="990.72" y2="1225.45" stroke="#000" stroke-width="0.9"/>
<line x1="990.97" y1="1212.82" x2="990.97" y2="1223.82" stroke="#000" stroke-width="0.9"/>
<path d="M868.0,1223.0 A61.0,26.0 0 0 0 990.0,1223.0" stroke="#000" stroke-width="1.4" fill="none"/>
<ellipse cx="929.0" cy="1210.0" rx="62.0" ry="26.0" class="pw" />
<path d="M879,1176.5 L879,1200 A52.3,29 0 0 0 983.7,1200 L983.7,1176.5" class="pw"/>
<ellipse cx="931.4" cy="1176.5" rx="52.3" ry="29" class="pw"/>
<ellipse cx="931.4" cy="1180" rx="40" ry="22" class="p"/>
<ellipse cx="931.4" cy="1182" rx="37" ry="20" class="p"/>
<path d="M881,1190 A50,28 0 0 0 981,1190" class="p"/>
<ellipse cx="931.4" cy="1184.0" rx="12.0" ry="7.0" class="h" />
<ellipse cx="580.5" cy="1024.0" rx="2.6" ry="1.8" class="h" />
<ellipse cx="659.0" cy="1008.4" rx="2.6" ry="1.8" class="h" />
<ellipse cx="600.0" cy="1096.0" rx="2.6" ry="1.8" class="h" />
<ellipse cx="632.8" cy="1114.3" rx="2.6" ry="1.8" class="h" />
<ellipse cx="677.3" cy="1107.8" rx="2.6" ry="1.8" class="h" />
<ellipse cx="532.0" cy="1152.3" rx="2.6" ry="1.8" class="h" />
<ellipse cx="884.4" cy="1260.4" rx="2.6" ry="1.8" class="h" />
<ellipse cx="917.8" cy="1280.0" rx="2.6" ry="1.8" class="h" />
<ellipse cx="963.0" cy="1272.2" rx="2.6" ry="1.8" class="h" />
<ellipse cx="974.7" cy="1248.7" rx="2.6" ry="1.8" class="h" />
<ellipse cx="843.2" cy="1303.6" rx="2.6" ry="1.8" class="h" />
<ellipse cx="1017.8" cy="1301.6" rx="2.6" ry="1.8" class="h" />
<ellipse cx="1017.8" cy="1198.8" rx="2.6" ry="1.8" class="h" />
<ellipse cx="1033.5" cy="1191.8" rx="2.6" ry="1.8" class="h" />
</g>
<g id="dashed">
<path d="M1078.0,200.0 L1078.0,345.0 L1322.0,311.0 L1322.0,548.0" class="d"/>
<path d="M1322.0,566.0 L1322.0,604.0" class="d"/>
<path d="M377.0,492.0 L377.0,528.0 L641.5,682.0 L641.5,1012.0" class="d"/>
<path d="M263.5,690.0 L263.5,704.0 L317.6,737.0 L317.6,892.0 L515.0,1002.0 L515.0,1048.0" class="d"/>
<path d="M344.5,692.0 L344.5,733.0" class="d"/>
<path d="M343.5,810.0 L343.5,849.0 L547.8,965.0 L547.8,1030.0" class="d"/>
<path d="M207.0,969.0 L251.3,993.5 L251.3,1044.0 L409.0,1136.5 L421.0,1142.5 L486.7,1111.0" class="d"/>
<path d="M361.6,1036.0 L361.6,1004.0 L480.8,1071.0" class="d"/>
<path d="M714.0,899.0 L714.0,1015.0" class="d"/>
<path d="M894.5,848.0 L857.5,864.0 L857.5,944.0 L746.0,1003.0" class="d"/>
<path d="M894.5,848.0 L894.5,888.0" class="d"/>
<path d="M1214.0,719.0 L1214.0,793.0 L730.0,1044.0 L730.0,1140.0" class="d"/>
<path d="M1081.0,606.0 L1081.0,664.0 L1032.0,686.0" class="d"/>
<path d="M1112.0,805.0 L1229.5,871.5 L1229.5,1571.0 L703.5,1268.0" class="d"/>
<path d="M382.0,1373.0 L393.3,1383.0 L393.3,1434.0" class="d"/>
<path d="M418.0,1449.0 L546.4,1521.0 L546.4,1279.0" class="d"/>
<path d="M592.6,1277.0 L592.6,1360.4 L608.8,1370.8" class="d"/>
<path d="M648.4,1213.0 L648.4,1420.0" class="d"/>
<path d="M648.4,1213.0 L721.8,1171.7" class="d"/>
</g>
<g id="parts">
<path d="M1131.8,247 C1131.8,260 1140,272 1160,279 M1236.4,247 C1236.4,262 1228,272 1212,279" stroke="#000" stroke-width="2.2" fill="none" stroke-dasharray="7 4"/>
<ellipse cx="1184" cy="245.6" rx="52.3" ry="30.5" fill="#fff" stroke="#000" stroke-width="2.4" stroke-dasharray="8 4"/>
<ellipse cx="1184" cy="248" rx="40" ry="23" fill="none" stroke="#000" stroke-width="1.1" stroke-dasharray="6 3"/>
<ellipse cx="1184" cy="248" rx="38" ry="21.3" fill="none" stroke="#000" stroke-width="1.1" stroke-dasharray="6 3"/>
<ellipse cx="1184" cy="252.3" rx="12" ry="7.1" class="s" stroke-width="1.6"/>
<path d="M1166,291 C1170,297 1190,299 1196,292" class="s" stroke-width="1.6"/>
<path d="M1166,291 L1200,290" stroke="#000" stroke-width="2" stroke-dasharray="6 3" fill="none"/>
<path d="M1036,143 L846.2,238.6 C838,243 831,250 829,258 C827,266 827,277 831,284 C835,292 845,300 855,302.2 L872.3,303.5 L1060,292.7 L1175,287.2 C1195,285 1212,283 1224,276" class="s" stroke-width="2.5"/>
<path d="M1031,148 L846.2,242.1 C840,246 836,250 835.7,252.5 C833,258 833,270 835.7,277 C838,283 843,287 848,288 C855,291 862,292.7 867,292.7 L1060,282.2 L1153.6,277.3 C1180,276 1205,274 1222,268" class="s" stroke-width="1.6"/>
<path d="M1031,160 L846.2,252.5 C840,256 836,260 834.8,264.8" class="s" stroke-width="2.2"/>
<path d="M1124,150 L1218,222.8" class="s" stroke-width="2.6"/>
<path d="M1124,161 L1186.3,214 M1124,165.5 L1188.5,215.2" class="s" stroke-width="1.7"/>
<path d="M1032,153 L1033,174 A45,25 0 0 0 1123,174 L1124,153 Z" class="sw"/>
<path d="M1033,169 A45,24 0 0 0 1123,169" class="s" stroke-width="1.6"/>
<path d="M1034,178 A44,22 0 0 0 1122,178" class="s" stroke-width="1.4"/>
<ellipse cx="1078.0" cy="152.6" rx="46.0" ry="26.5" class="sw" stroke-width="2.4"/>
<ellipse cx="1078.0" cy="152.6" rx="42.0" ry="22.0" class="s" stroke-width="1.2"/>
<ellipse cx="1078.0" cy="156.5" rx="24.0" ry="13.5" class="s" stroke-width="1.4"/>
<ellipse cx="1078.0" cy="156.5" rx="19.0" ry="10.5" class="s" stroke-width="1.4"/>
<ellipse cx="1078.0" cy="156.5" rx="14.5" ry="8.0" class="s" stroke-width="1.4"/>
<ellipse cx="1078.0" cy="156.5" rx="10.5" ry="6.0" class="s" stroke-width="1.4"/>
<line x1="1078.5" y1="33" x2="1078.5" y2="160" stroke="#000" stroke-width="1.2"/>
<path d="M1067.5,21.5 L1071.5,17 L1084.5,17 L1088.5,21.5 L1088.5,29 L1084.5,33.5 L1071.5,33.5 L1067.5,29 Z" class="sw"/>
<path d="M1067.5,21.5 L1071.5,26 L1084.5,26 L1088.5,21.5 M1071.5,26 L1071.5,33.5 M1084.5,26 L1084.5,33.5" class="s" stroke-width="1.4"/>
<ellipse cx="1078.0" cy="21.5" rx="5.0" ry="2.6" class="s" stroke-width="1.5"/>
<path d="M1056.3,45.4 L1074.5,42.7 L1080,53 L1088,68.5 L1088,72.5 L1072.7,75.4 L1068,71.5 L1062.7,61.5 L1058,63.6 L1056.3,61.8 Z" class="sw"/>
<path d="M1063,48.5 L1075.5,46.5 M1062.7,61.5 L1062.7,49 M1064.5,56.5 L1080,53 M1068,71.5 L1088,68.5" class="s" stroke-width="1.3"/>
<ellipse cx="1077.0" cy="68.5" rx="2.6" ry="1.6" class="s" stroke-width="1.2"/>
<line x1="1078.5" y1="48" x2="1078.5" y2="67" stroke="#000" stroke-width="1.2"/>
<path d="M1068.8,90.5 L1068.8,93.0 A9.2,5.0 0 0 0 1087.2,93.0 L1087.2,90.5" class="sw"/>
<ellipse cx="1078.0" cy="90.5" rx="9.2" ry="5.0" class="sw" />
<ellipse cx="1078.0" cy="90.5" rx="4.1" ry="2.2" class="s" />
<path d="M1073.9,90.5 A4.1,2.2 0 0 1 1082.1,90.5" stroke="#000" stroke-width="1" fill="none" transform="translate(0,1.2)"/>
<path d="M1068.8,112.5 L1068.8,115.0 A9.2,5.0 0 0 0 1087.2,115.0 L1087.2,112.5" class="sw"/>
<ellipse cx="1078.0" cy="112.5" rx="9.2" ry="5.0" class="sw" />
<ellipse cx="1078.0" cy="112.5" rx="4.1" ry="2.2" class="s" />
<path d="M1073.9,112.5 A4.1,2.2 0 0 1 1082.1,112.5" stroke="#000" stroke-width="1" fill="none" transform="translate(0,1.2)"/>
<line x1="1078.5" y1="119" x2="1078.5" y2="162" stroke="#000" stroke-width="1.2"/>
<line x1="1078.5" y1="97" x2="1078.5" y2="110" stroke="#000" stroke-width="1.2"/>
<line x1="1078.5" y1="76" x2="1078.5" y2="88" stroke="#000" stroke-width="1.2"/>
<path d="M1070.7,233.5 L1070.7,242.5 A7.3,4.2 0 0 0 1085.3,242.5 L1085.3,233.5" class="sw"/>
<ellipse cx="1078.0" cy="233.5" rx="7.3" ry="4.2" class="sw" />
<ellipse cx="1078.0" cy="233.5" rx="3.3" ry="1.9" class="s" />
<path d="M1070.7,315.0 L1070.7,324.0 A7.3,4.2 0 0 0 1085.3,324.0 L1085.3,315.0" class="sw"/>
<ellipse cx="1078.0" cy="315.0" rx="7.3" ry="4.2" class="sw" />
<ellipse cx="1078.0" cy="315.0" rx="3.3" ry="1.9" class="s" />
<path d="M235,401 C234,395 237,392 243,389 L405,343 L438,333 C450,330 462,329 471,329 C480,330 489,335 490,343 C490,349 486,353 481,355 C475,357 465,358 457,359 L438,362 L401,364.5 C375,366 352,370 340,378 C331,385 329,395 330,402 C331,410 336,416 345,422 C355,428 370,433 385,436 L440,452 L580,493 L673,521 L707,533.5 C722,538 734,548 739,558 C742,567 739,578 733,585 C726,593 716,597 707,599 C690,601 675,601 665,599 L649,594 L580,563 L440,499 L356,459 L303,436 L245,410 C240,408 236,405 235,401 Z" stroke="#000" stroke-width="4.0" fill="none" stroke-linejoin="round"/>
<path d="M235,401 C234,395 237,392 243,389 L405,343 L438,333 C450,330 462,329 471,329 C480,330 489,335 490,343 C490,349 486,353 481,355 C475,357 465,358 457,359 L438,362 L401,364.5 C375,366 352,370 340,378 C331,385 329,395 330,402 C331,410 336,416 345,422 C355,428 370,433 385,436 L440,452 L580,493 L673,521 L707,533.5 C722,538 734,548 739,558 C742,567 739,578 733,585 C726,593 716,597 707,599 C690,601 675,601 665,599 L649,594 L580,563 L440,499 L356,459 L303,436 L245,410 C240,408 236,405 235,401 Z" stroke="#fff" stroke-width="1.0" fill="none" stroke-linejoin="round" transform="translate(0,0.5)"/>
<path d="M234.5,401 L234.8,422 C236,428 240,430 245,431.5 L303.5,458.6 L440,518.6 L580,579 L645,610.5 C655,614 665,617 673,617.5 C685,617.8 697,617 707.5,614 C718,611 727,607 731,602 C737,596 741,590 741,584 L741,563" class="s" stroke-width="2.6"/>
<path d="M243,409 L336,381.5" class="s" stroke-width="2.6"/>
<path d="M408.7,362.4 L453.5,348.8 C462,347 470,348 475.9,350.4 C478,351.5 480,352.5 480.7,353.6" class="s" stroke-width="2"/>
<path d="M328.8,398 L328.5,422 C330,430 333,434 336,437.7 C343,443 350,446 356,448 L440,472 L580,511.6 L673,539.6 L707.5,551.2 C715,554 722,558 726,563" class="s" stroke-width="2.6"/>
<path d="M490.3,343 L490.3,364.5 C489,368 486,371 481.6,373.2 C475,376 468,377 460,377.6 L416,382 L373,385.2 C362,387 355,390 349,393.2 C343,397 338,402 333.6,409" class="s" stroke-width="2.6"/>
<line x1="264" y1="538" x2="264" y2="690" stroke="#000" stroke-width="1.2"/>
<path d="M259.6,506.5 L259.6,537.6 Q263.6,539.6 267.6,537.6 L267.6,506.5" class="sw"/>
<path d="M259.6,519.0 Q263.6,520.6 267.6,519.0" stroke="#000" stroke-width="1.1" fill="none"/>
<path d="M259.6,521.6 Q263.6,523.2 267.6,521.6" stroke="#000" stroke-width="1.1" fill="none"/>
<path d="M259.6,524.2 Q263.6,525.8 267.6,524.2" stroke="#000" stroke-width="1.1" fill="none"/>
<path d="M259.6,526.8 Q263.6,528.4 267.6,526.8" stroke="#000" stroke-width="1.1" fill="none"/>
<path d="M259.6,529.4 Q263.6,531.0 267.6,529.4" stroke="#000" stroke-width="1.1" fill="none"/>
<path d="M259.6,532.0 Q263.6,533.6 267.6,532.0" stroke="#000" stroke-width="1.1" fill="none"/>
<path d="M259.6,534.6 Q263.6,536.2 267.6,534.6" stroke="#000" stroke-width="1.1" fill="none"/>
<path d="M259.6,537.2 Q263.6,538.8 267.6,537.2" stroke="#000" stroke-width="1.1" fill="none"/>
<path d="M255.7,496.4 Q255.7,492.5 263.6,492.5 Q271.5,492.5 271.5,496.4 L271.5,506.5 Q263.6,508.5 255.7,506.5 Z" class="sw"/>
<path d="M255.7,497.4 Q263.6,501.3 271.5,497.4 M260.8,498.2 L260.8,507.3 M266.4,498.2 L266.4,507.3" stroke="#000" stroke-width="1.1" fill="none"/>
<path d="M254.0,548.6 L254.0,551.1 A10.0,5.0 0 0 0 274.0,551.1 L274.0,548.6" class="sw"/>
<ellipse cx="264.0" cy="548.6" rx="10.0" ry="5.0" class="sw" />
<ellipse cx="264.0" cy="548.6" rx="4.5" ry="2.2" class="s" />
<path d="M259.5,548.6 A4.5,2.2 0 0 1 268.5,548.6" stroke="#000" stroke-width="1" fill="none" transform="translate(0,1.2)"/>
<path d="M236.5,578.4 L237.5,598.4 A26.3,16.0 0 0 0 290.1,598.4 L291.1,578.4" fill="#fff" stroke="#000" stroke-width="2.2"/>
<line x1="236.54" y1="581.30" x2="236.54" y2="598.30" stroke="#000" stroke-width="1.4"/>
<line x1="236.89" y1="583.08" x2="236.89" y2="600.08" stroke="#000" stroke-width="1.4"/>
<line x1="237.57" y1="584.83" x2="237.57" y2="601.83" stroke="#000" stroke-width="1.4"/>
<line x1="238.58" y1="586.52" x2="238.58" y2="603.52" stroke="#000" stroke-width="1.4"/>
<line x1="239.91" y1="588.14" x2="239.91" y2="605.14" stroke="#000" stroke-width="1.4"/>
<line x1="241.54" y1="589.66" x2="241.54" y2="606.66" stroke="#000" stroke-width="1.4"/>
<line x1="243.44" y1="591.06" x2="243.44" y2="608.06" stroke="#000" stroke-width="1.4"/>
<line x1="245.61" y1="592.33" x2="245.61" y2="609.33" stroke="#000" stroke-width="1.4"/>
<line x1="248.00" y1="593.45" x2="248.00" y2="610.45" stroke="#000" stroke-width="1.4"/>
<line x1="250.59" y1="594.40" x2="250.59" y2="611.40" stroke="#000" stroke-width="1.4"/>
<line x1="253.35" y1="595.18" x2="253.35" y2="612.18" stroke="#000" stroke-width="1.4"/>
<line x1="256.24" y1="595.77" x2="256.24" y2="612.77" stroke="#000" stroke-width="1.4"/>
<line x1="259.23" y1="596.17" x2="259.23" y2="613.17" stroke="#000" stroke-width="1.4"/>
<line x1="262.27" y1="596.37" x2="262.27" y2="613.37" stroke="#000" stroke-width="1.4"/>
<line x1="265.33" y1="596.37" x2="265.33" y2="613.37" stroke="#000" stroke-width="1.4"/>
<line x1="268.37" y1="596.17" x2="268.37" y2="613.17" stroke="#000" stroke-width="1.4"/>
<line x1="271.36" y1="595.77" x2="271.36" y2="612.77" stroke="#000" stroke-width="1.4"/>
<line x1="274.25" y1="595.18" x2="274.25" y2="612.18" stroke="#000" stroke-width="1.4"/>
<line x1="277.01" y1="594.40" x2="277.01" y2="611.40" stroke="#000" stroke-width="1.4"/>
<line x1="279.60" y1="593.45" x2="279.60" y2="610.45" stroke="#000" stroke-width="1.4"/>
<line x1="281.99" y1="592.33" x2="281.99" y2="609.33" stroke="#000" stroke-width="1.4"/>
<line x1="284.16" y1="591.06" x2="284.16" y2="608.06" stroke="#000" stroke-width="1.4"/>
<line x1="286.06" y1="589.66" x2="286.06" y2="606.66" stroke="#000" stroke-width="1.4"/>
<line x1="287.69" y1="588.14" x2="287.69" y2="605.14" stroke="#000" stroke-width="1.4"/>
<line x1="289.02" y1="586.52" x2="289.02" y2="603.52" stroke="#000" stroke-width="1.4"/>
<line x1="290.03" y1="584.83" x2="290.03" y2="601.83" stroke="#000" stroke-width="1.4"/>
<line x1="290.71" y1="583.08" x2="290.71" y2="600.08" stroke="#000" stroke-width="1.4"/>
<line x1="291.06" y1="581.30" x2="291.06" y2="598.30" stroke="#000" stroke-width="1.4"/>
<path d="M237.5,597.4 A26.3,16.0 0 0 0 290.1,597.4" stroke="#000" stroke-width="2.4000000000000004" fill="none"/>
<ellipse cx="263.8" cy="578.4" rx="27.3" ry="16.0" class="sw" />
<ellipse cx="263.8" cy="578.4" rx="27.3" ry="16.0" fill="none" stroke="#000" stroke-width="1.2" stroke-dasharray="1.2 1.3"/>
<ellipse cx="263.8" cy="579.4" rx="14.2" ry="8.3" class="s" />
<path d="M253.0,632.0 L253.0,644.0 A11.4,5.5 0 0 0 275.8,644.0 L275.8,632.0" class="sw"/>
<ellipse cx="264.4" cy="632.0" rx="11.4" ry="5.5" class="sw" />
<path d="M256.2,626.0 L256.2,631.0 A8.2,4.0 0 0 0 272.6,631.0 L272.6,626.0" class="sw"/>
<ellipse cx="264.4" cy="626.0" rx="8.2" ry="4.0" class="sw" />
<ellipse cx="264.4" cy="626.0" rx="4.1" ry="2.0" class="s" />
<path d="M251.7,659.6 L251.7,662.2 A11.7,5.8 0 0 0 275.1,662.2 L275.1,659.6" class="sw"/>
<ellipse cx="263.4" cy="659.6" rx="11.7" ry="5.8" class="sw" />
<ellipse cx="263.4" cy="659.6" rx="4.9" ry="2.4" class="s" />
<path d="M258.5,659.6 A4.9,2.4 0 0 1 268.3,659.6" stroke="#000" stroke-width="1" fill="none" transform="translate(0,1.2)"/>
<path d="M251.7,682.3 L251.7,684.9 A11.7,5.8 0 0 0 275.1,684.9 L275.1,682.3" class="sw"/>
<ellipse cx="263.4" cy="682.3" rx="11.7" ry="5.8" class="sw" />
<ellipse cx="263.4" cy="682.3" rx="4.9" ry="2.4" class="s" />
<path d="M258.5,682.3 A4.9,2.4 0 0 1 268.3,682.3" stroke="#000" stroke-width="1" fill="none" transform="translate(0,1.2)"/>
<path d="M341,664 L341,672 Q344.3,674 347.7,672 L347.7,664" class="sw" stroke-width="1.6"/>
<path d="M341,666.5 Q344.3,668 347.7,666.5 M341,669 Q344.3,670.5 347.7,669" class="s" stroke-width="1"/>
<path d="M336,657 Q336,653 344,653 Q351.7,653 351.7,657 L351.7,661 Q344,665 336,661 Z" class="sw" stroke-width="1.8"/>
<path d="M336,658 Q344,661 351.7,658 M340.5,659.5 L340.5,663 M347.5,659.5 L347.5,663" class="s" stroke-width="1"/>
<path d="M337.6,680.0 L337.6,688.0 A6.7,3.6 0 0 0 351.0,688.0 L351.0,680.0" class="sw"/>
<ellipse cx="344.3" cy="680.0" rx="6.7" ry="3.6" class="sw" />
<ellipse cx="344.3" cy="680.0" rx="3.0" ry="1.6" class="s" />
<path d="M287.2,768 Q287,759 297,753.5 L348,723.5 Q356,720 363,723.5 L372,729 Q377.5,733 375,739.5 L353,770 Q349.5,777 357,782.5 L428,823.5 Q433.5,827 433.5,832 L433.5,838.5 L409,854.5 L405.5,852 L405.5,843 L293,779.5 Q287.3,776 287.2,768 Z" class="sw" stroke-width="2.3"/>
<path d="M288,773.5 L405.5,842 M405.5,843 L432,828" class="s" stroke-width="1.5"/>
<path d="M353.5,776 Q355,781 362,784 M409,854.5 L409,847 L433.5,833" class="s" stroke-width="1.2"/>
<ellipse cx="344.6" cy="735.2" rx="3.6" ry="2.1" class="s" stroke-width="1.3"/>
<path d="M317.6,737 L317.6,765 M344.5,722 L344.5,734" class="d"/>
<ellipse cx="317.6" cy="766.7" rx="3.6" ry="2.1" class="s" stroke-width="1.3"/>
<path d="M400.5,815.5 L404.5,813.5 L407,817.5 L403,819.5 Z" class="s" stroke-width="1.3"/>
<ellipse cx="424.6" cy="840.0" rx="2.2" ry="2.8" class="s" stroke-width="1.3"/>
<g transform="translate(220.0,963.9) rotate(-40.96)">
<rect x="0" y="-6.8" width="96.3" height="13.6" rx="3" fill="#0a0a0a"/>
<rect x="6.0" y="-3.0" width="1.3" height="0.9" fill="#fff" opacity="0.85"/>
<rect x="9.2" y="-2.9" width="1.7" height="0.9" fill="#fff" opacity="0.85"/>
<rect x="11.9" y="-2.5" width="1.0" height="0.9" fill="#fff" opacity="0.85"/>
<rect x="14.9" y="-2.3" width="1.3" height="0.9" fill="#fff" opacity="0.85"/>
<rect x="18.3" y="-3.1" width="2.0" height="0.9" fill="#fff" opacity="0.85"/>
<rect x="22.1" y="-2.8" width="1.2" height="0.9" fill="#fff" opacity="0.85"/>
<rect x="26.3" y="-2.7" width="1.6" height="0.9" fill="#fff" opacity="0.85"/>
<rect x="30.2" y="-2.6" width="1.1" height="0.9" fill="#fff" opacity="0.85"/>
<rect x="33.9" y="-3.8" width="1.4" height="0.9" fill="#fff" opacity="0.85"/>
<rect x="38.1" y="-2.7" width="1.6" height="0.9" fill="#fff" opacity="0.85"/>
<rect x="42.4" y="-2.4" width="1.9" height="0.9" fill="#fff" opacity="0.85"/>
<rect x="45.6" y="-3.1" width="2.0" height="0.9" fill="#fff" opacity="0.85"/>
<rect x="50.0" y="-3.7" width="2.1" height="0.9" fill="#fff" opacity="0.85"/>
<rect x="52.8" y="-2.3" width="1.3" height="0.9" fill="#fff" opacity="0.85"/>
<rect x="56.2" y="-3.4" width="1.8" height="0.9" fill="#fff" opacity="0.85"/>
<rect x="59.7" y="-3.3" width="1.5" height="0.9" fill="#fff" opacity="0.85"/>
<rect x="63.3" y="-2.4" width="1.7" height="0.9" fill="#fff" opacity="0.85"/>
<rect x="67.2" y="-2.5" width="2.1" height="0.9" fill="#fff" opacity="0.85"/>
<rect x="71.7" y="-3.6" width="1.8" height="0.9" fill="#fff" opacity="0.85"/>
<rect x="75.9" y="-2.4" width="2.2" height="0.9" fill="#fff" opacity="0.85"/>
<rect x="79.6" y="-3.5" width="1.9" height="0.9" fill="#fff" opacity="0.85"/>
<rect x="83.7" y="-3.4" width="1.7" height="0.9" fill="#fff" opacity="0.85"/>
<rect x="86.3" y="-2.3" width="2.0" height="0.9" fill="#fff" opacity="0.85"/>
<rect x="89.0" y="-3.2" width="2.0" height="0.9" fill="#fff" opacity="0.85"/>
<rect x="6.0" y="2.8" width="1.4" height="0.9" fill="#fff" opacity="0.85"/>
<rect x="10.2" y="2.6" width="1.1" height="0.9" fill="#fff" opacity="0.85"/>
<rect x="12.8" y="2.1" width="1.9" height="0.9" fill="#fff" opacity="0.85"/>
<rect x="17.1" y="2.4" width="2.2" height="0.9" fill="#fff" opacity="0.85"/>
<rect x="21.6" y="1.7" width="1.4" height="0.9" fill="#fff" opacity="0.85"/>
<rect x="25.3" y="1.9" width="1.0" height="0.9" fill="#fff" opacity="0.85"/>
<rect x="28.6" y="1.8" width="1.7" height="0.9" fill="#fff" opacity="0.85"/>
<rect x="31.2" y="2.1" width="2.0" height="0.9" fill="#fff" opacity="0.85"/>
<rect x="35.6" y="2.2" width="2.1" height="0.9" fill="#fff" opacity="0.85"/>
<rect x="39.0" y="2.6" width="1.6" height="0.9" fill="#fff" opacity="0.85"/>
<rect x="42.7" y="2.6" width="1.7" height="0.9" fill="#fff" opacity="0.85"/>
<rect x="47.1" y="2.3" width="1.6" height="0.9" fill="#fff" opacity="0.85"/>
<rect x="51.0" y="2.1" width="1.3" height="0.9" fill="#fff" opacity="0.85"/>
<rect x="55.5" y="2.5" width="1.6" height="0.9" fill="#fff" opacity="0.85"/>
<rect x="58.0" y="2.5" width="1.5" height="0.9" fill="#fff" opacity="0.85"/>
<rect x="60.6" y="2.6" width="1.7" height="0.9" fill="#fff" opacity="0.85"/>
<rect x="63.2" y="2.3" width="1.8" height="0.9" fill="#fff" opacity="0.85"/>
<rect x="67.0" y="2.7" width="1.4" height="0.9" fill="#fff" opacity="0.85"/>
<rect x="71.0" y="1.7" width="1.0" height="0.9" fill="#fff" opacity="0.85"/>
<rect x="74.9" y="2.0" width="2.2" height="0.9" fill="#fff" opacity="0.85"/>
<rect x="78.3" y="2.1" width="1.7" height="0.9" fill="#fff" opacity="0.85"/>
<rect x="81.5" y="2.2" width="1.4" height="0.9" fill="#fff" opacity="0.85"/>
<rect x="85.2" y="2.2" width="1.4" height="0.9" fill="#fff" opacity="0.85"/>
<rect x="89.2" y="2.5" width="1.0" height="0.9" fill="#fff" opacity="0.85"/>
<path d="M2.0,-5.3 A2.2,5.3 0 0 0 2.0,5.3" stroke="#fff" stroke-width="0.7" fill="none"/>
<path d="M94.3,-5.3 A2.2,5.3 0 0 1 94.3,5.3" stroke="#fff" stroke-width="0.7" fill="none"/>
<path d="M4.2,-5.3 A2.2,5.3 0 0 0 4.2,5.3" stroke="#fff" stroke-width="0.7" fill="none"/>
<path d="M92.1,-5.3 A2.2,5.3 0 0 1 92.1,5.3" stroke="#fff" stroke-width="0.7" fill="none"/>
<path d="M6.4,-5.3 A2.2,5.3 0 0 0 6.4,5.3" stroke="#fff" stroke-width="0.7" fill="none"/>
<path d="M89.9,-5.3 A2.2,5.3 0 0 1 89.9,5.3" stroke="#fff" stroke-width="0.7" fill="none"/>
</g>
<path d="M287.9,897.6 C290,893 293,889 296,889.6 C299,890 301.5,893 301.5,896 L300,898" stroke="#000" stroke-width="2.6" fill="none" stroke-linecap="round"/>
<path d="M287.9,897.6 C290,893 293,889 296,889.6 C299,890 301.5,893 301.5,896 L300,898" stroke="#fff" stroke-width="0.9" fill="none"/>
<path d="M222.4,960.7 L210.4,971.9 C206,975 207,978 211.2,979" stroke="#000" stroke-width="2.6" fill="none" stroke-linecap="round"/>
<path d="M222.4,960.7 L210.4,971.9 C206,975 207,978 211.2,979" stroke="#fff" stroke-width="0.9" fill="none"/>
<ellipse cx="362.8" cy="1051" rx="23.6" ry="14.2" class="sw" stroke-width="2.6"/>
<ellipse cx="363" cy="1050.4" rx="7.5" ry="4.8" fill="#000"/>
<line x1="362.2" y1="1036" x2="362.2" y2="1052" stroke="#fff" stroke-width="1.6"/>
<line x1="714.4" y1="736" x2="714.4" y2="899" stroke="#000" stroke-width="1.2"/>
<path d="M710.1,711.4 L710.1,735.0 Q714.4,737.0 718.7,735.0 L718.7,711.4" class="sw"/>
<path d="M710.1,716.0 Q714.4,717.6 718.7,716.0" stroke="#000" stroke-width="1.1" fill="none"/>
<path d="M710.1,718.6 Q714.4,720.2 718.7,718.6" stroke="#000" stroke-width="1.1" fill="none"/>
<path d="M710.1,721.2 Q714.4,722.8 718.7,721.2" stroke="#000" stroke-width="1.1" fill="none"/>
<path d="M710.1,723.8 Q714.4,725.4 718.7,723.8" stroke="#000" stroke-width="1.1" fill="none"/>
<path d="M710.1,726.4 Q714.4,728.0 718.7,726.4" stroke="#000" stroke-width="1.1" fill="none"/>
<path d="M710.1,729.0 Q714.4,730.6 718.7,729.0" stroke="#000" stroke-width="1.1" fill="none"/>
<path d="M710.1,731.6 Q714.4,733.2 718.7,731.6" stroke="#000" stroke-width="1.1" fill="none"/>
<path d="M710.1,734.2 Q714.4,735.8 718.7,734.2" stroke="#000" stroke-width="1.1" fill="none"/>
<path d="M706.9,703.5 Q706.9,700.4 714.4,700.4 Q721.9,700.4 721.9,703.5 L721.9,711.4 Q714.4,713.4 706.9,711.4 Z" class="sw"/>
<path d="M706.9,704.5 Q714.4,707.6 721.9,704.5 M711.8,705.3 L711.8,712.2 M717.0,705.3 L717.0,712.2" stroke="#000" stroke-width="1.1" fill="none"/>
<path d="M704.1,745.5 L704.1,748.1 A10.3,5.6 0 0 0 724.7,748.1 L724.7,745.5" class="sw"/>
<ellipse cx="714.4" cy="745.5" rx="10.3" ry="5.6" class="sw" />
<ellipse cx="714.4" cy="745.5" rx="4.6" ry="2.5" class="s" />
<path d="M709.8,745.5 A4.6,2.5 0 0 1 719.0,745.5" stroke="#000" stroke-width="1" fill="none" transform="translate(0,1.2)"/>
<path d="M688.3,779.5 L689.3,803.5 A25.3,13.4 0 0 0 739.9,803.5 L740.9,779.5" fill="#fff" stroke="#000" stroke-width="2.2"/>
<line x1="688.33" y1="782.16" x2="688.33" y2="803.16" stroke="#000" stroke-width="2.1"/>
<line x1="688.58" y1="783.47" x2="688.58" y2="804.47" stroke="#000" stroke-width="2.1"/>
<line x1="689.09" y1="784.76" x2="689.09" y2="805.76" stroke="#000" stroke-width="2.1"/>
<line x1="689.84" y1="786.01" x2="689.84" y2="807.01" stroke="#000" stroke-width="2.1"/>
<line x1="690.83" y1="787.23" x2="690.83" y2="808.23" stroke="#000" stroke-width="2.1"/>
<line x1="692.04" y1="788.39" x2="692.04" y2="809.39" stroke="#000" stroke-width="2.1"/>
<line x1="693.48" y1="789.48" x2="693.48" y2="810.48" stroke="#000" stroke-width="2.1"/>
<line x1="695.11" y1="790.50" x2="695.11" y2="811.50" stroke="#000" stroke-width="2.1"/>
<line x1="696.94" y1="791.43" x2="696.94" y2="812.43" stroke="#000" stroke-width="2.1"/>
<line x1="698.93" y1="792.26" x2="698.93" y2="813.26" stroke="#000" stroke-width="2.1"/>
<line x1="701.08" y1="792.99" x2="701.08" y2="813.99" stroke="#000" stroke-width="2.1"/>
<line x1="703.36" y1="793.61" x2="703.36" y2="814.61" stroke="#000" stroke-width="2.1"/>
<line x1="705.74" y1="794.12" x2="705.74" y2="815.12" stroke="#000" stroke-width="2.1"/>
<line x1="708.21" y1="794.50" x2="708.21" y2="815.50" stroke="#000" stroke-width="2.1"/>
<line x1="710.74" y1="794.75" x2="710.74" y2="815.75" stroke="#000" stroke-width="2.1"/>
<line x1="713.31" y1="794.88" x2="713.31" y2="815.88" stroke="#000" stroke-width="2.1"/>
<line x1="715.89" y1="794.88" x2="715.89" y2="815.88" stroke="#000" stroke-width="2.1"/>
<line x1="718.46" y1="794.75" x2="718.46" y2="815.75" stroke="#000" stroke-width="2.1"/>
<line x1="720.99" y1="794.50" x2="720.99" y2="815.50" stroke="#000" stroke-width="2.1"/>
<line x1="723.46" y1="794.12" x2="723.46" y2="815.12" stroke="#000" stroke-width="2.1"/>
<line x1="725.84" y1="793.61" x2="725.84" y2="814.61" stroke="#000" stroke-width="2.1"/>
<line x1="728.12" y1="792.99" x2="728.12" y2="813.99" stroke="#000" stroke-width="2.1"/>
<line x1="730.27" y1="792.26" x2="730.27" y2="813.26" stroke="#000" stroke-width="2.1"/>
<line x1="732.26" y1="791.43" x2="732.26" y2="812.43" stroke="#000" stroke-width="2.1"/>
<line x1="734.09" y1="790.50" x2="734.09" y2="811.50" stroke="#000" stroke-width="2.1"/>
<line x1="735.72" y1="789.48" x2="735.72" y2="810.48" stroke="#000" stroke-width="2.1"/>
<line x1="737.16" y1="788.39" x2="737.16" y2="809.39" stroke="#000" stroke-width="2.1"/>
<line x1="738.37" y1="787.23" x2="738.37" y2="808.23" stroke="#000" stroke-width="2.1"/>
<line x1="739.36" y1="786.01" x2="739.36" y2="807.01" stroke="#000" stroke-width="2.1"/>
<line x1="740.11" y1="784.76" x2="740.11" y2="805.76" stroke="#000" stroke-width="2.1"/>
<line x1="740.62" y1="783.47" x2="740.62" y2="804.47" stroke="#000" stroke-width="2.1"/>
<line x1="740.87" y1="782.16" x2="740.87" y2="803.16" stroke="#000" stroke-width="2.1"/>
<path d="M689.3,802.5 A25.3,13.4 0 0 0 739.9,802.5" stroke="#000" stroke-width="2.4000000000000004" fill="none"/>
<ellipse cx="714.6" cy="779.5" rx="26.3" ry="13.4" class="sw" />
<ellipse cx="714.6" cy="779.5" rx="26.3" ry="13.4" fill="none" stroke="#000" stroke-width="1.2" stroke-dasharray="1.2 1.3"/>
<ellipse cx="714.6" cy="780.5" rx="18.9" ry="9.6" class="s" />
<path d="M703.2,843.5 L703.2,852.5 A11.4,5.5 0 0 0 726.0,852.5 L726.0,843.5" class="sw"/>
<ellipse cx="714.6" cy="843.5" rx="11.4" ry="5.5" class="sw" />
<path d="M707.5,834.0 L707.5,842.0 A7.1,3.6 0 0 0 721.7,842.0 L721.7,834.0" class="sw"/>
<ellipse cx="714.6" cy="834.0" rx="7.1" ry="3.6" class="sw" />
<ellipse cx="714.6" cy="834.0" rx="3.9" ry="2.0" class="s" />
<path d="M703.9,867.5 L703.9,870.1 A10.5,6.0 0 0 0 724.9,870.1 L724.9,867.5" class="sw"/>
<ellipse cx="714.4" cy="867.5" rx="10.5" ry="6.0" class="sw" />
<ellipse cx="714.4" cy="867.5" rx="4.7" ry="2.7" class="s" />
<path d="M709.7,867.5 A4.7,2.7 0 0 1 719.1,867.5" stroke="#000" stroke-width="1" fill="none" transform="translate(0,1.2)"/>
<path d="M703.9,888.2 L703.9,890.8 A10.5,6.0 0 0 0 724.9,890.8 L724.9,888.2" class="sw"/>
<ellipse cx="714.4" cy="888.2" rx="10.5" ry="6.0" class="sw" />
<ellipse cx="714.4" cy="888.2" rx="4.7" ry="2.7" class="s" />
<path d="M709.7,888.2 A4.7,2.7 0 0 1 719.1,888.2" stroke="#000" stroke-width="1" fill="none" transform="translate(0,1.2)"/>
<path d="M883,896 L885,904 L889,909.5 L904,909.5 L908,904 L910,896" class="sw" stroke-width="1.8"/>
<path d="M889,901 L889,909.5 M904,901 L904,909.5" class="s" stroke-width="1.2"/>
<ellipse cx="896.5" cy="895.0" rx="14.0" ry="7.5" class="sw" stroke-width="2"/>
<ellipse cx="896.5" cy="894.5" rx="7.0" ry="3.6" class="s" stroke-width="1.3"/>
<line x1="894.5" y1="887" x2="894.5" y2="896" stroke="#000" stroke-width="1.2"/>
<path d="M894.8,593 C896,586 902,583 906,581 C925,570 950,559 975,552 C1000,545 1030,538 1054.4,536.3 C1060,535 1066,535 1068.4,536.6 L1082.3,548.8 L1120,550.5 L1154.5,552.7 C1180,556 1195,561 1209,563.6 L1245.4,562.7 L1321.7,556.3 C1327,556 1331,557 1334.4,562.7 L1337,571.8 C1337,575 1336,577 1334.4,577.2 L1209,599 C1205,600 1203,600 1201.7,599 L1190.8,591.8 C1170,583 1140,578 1118.2,577.2 L1106.7,575.8 C1103,576 1101,577 1099.8,579.3 L1087.5,596.7 C1085,600 1083,601 1080.6,601 C1078,601 1076.5,600 1075.3,598.5 L1063,577.6 C1058,570 1052,564 1045.7,563.6 C1030,563 1015,566 1002,569.7 C975,576 950,584 930,593 C920,598 914,601 911.4,601 L896.6,600 C895,599 894.6,596 894.8,593 Z" class="sw" stroke-width="2.2"/>
<path d="M895,596.5 L914.9,596.7 C930,590 945,582 970,574 C990,569 1010,565 1030,562 L1042.2,560 L1047.4,561.9 L1063,575.8 L1064.9,575 L1082.3,548.8" class="s" stroke-width="1.5"/>
<path d="M1209,596 L1334.4,575" class="s" stroke-width="1.2"/>
<path d="M1057,537.4 L1043,559.2 M1066,538.5 L1052,562.5" stroke="#000" stroke-width="0.6" fill="none"/>
<ellipse cx="1081.4" cy="593.6" rx="2.5" ry="1.6" class="s" stroke-width="1.2"/>
<path d="M1314.5,565 L1323.5,565 L1324.5,570 L1315.5,570 Z" class="s" stroke-width="1.3"/>
<path d="M1201,600 L1201,615 Q1214,623 1227.2,615 L1227.2,598" class="sw" stroke-width="2"/>
<circle cx="1217.5" cy="607.5" r="2.6" fill="#000"/>
<ellipse cx="1213.6" cy="582.7" rx="13.6" ry="7.3" class="sw" stroke-width="2.4"/>
<ellipse cx="1213.6" cy="582.3" rx="9.0" ry="4.8" class="s" stroke-width="1.5"/>
<line x1="1214.5" y1="533" x2="1214.5" y2="545" stroke="#000" stroke-width="1.2"/>
<line x1="1214.5" y1="556" x2="1214.5" y2="588" stroke="#000" stroke-width="1.2"/>
<line x1="1214.5" y1="620" x2="1214.5" y2="632" stroke="#000" stroke-width="1.2"/>
<line x1="1214.5" y1="670" x2="1214.5" y2="708" stroke="#000" stroke-width="1.2" stroke-dasharray="9 4"/>
<path d="M1210.5,488.5 L1210.5,532.0 Q1214.5,534.0 1218.5,532.0 L1218.5,488.5" class="sw"/>
<path d="M1210.5,513.0 Q1214.5,514.6 1218.5,513.0" stroke="#000" stroke-width="1.1" fill="none"/>
<path d="M1210.5,515.6 Q1214.5,517.2 1218.5,515.6" stroke="#000" stroke-width="1.1" fill="none"/>
<path d="M1210.5,518.2 Q1214.5,519.8 1218.5,518.2" stroke="#000" stroke-width="1.1" fill="none"/>
<path d="M1210.5,520.8 Q1214.5,522.4 1218.5,520.8" stroke="#000" stroke-width="1.1" fill="none"/>
<path d="M1210.5,523.4 Q1214.5,525.0 1218.5,523.4" stroke="#000" stroke-width="1.1" fill="none"/>
<path d="M1210.5,526.0 Q1214.5,527.6 1218.5,526.0" stroke="#000" stroke-width="1.1" fill="none"/>
<path d="M1210.5,528.6 Q1214.5,530.2 1218.5,528.6" stroke="#000" stroke-width="1.1" fill="none"/>
<path d="M1210.5,531.2 Q1214.5,532.8 1218.5,531.2" stroke="#000" stroke-width="1.1" fill="none"/>
<path d="M1207.3,480.2 Q1207.3,477.0 1214.5,477.0 Q1221.7,477.0 1221.7,480.2 L1221.7,488.5 Q1214.5,490.5 1207.3,488.5 Z" class="sw"/>
<path d="M1207.3,481.2 Q1214.5,484.4 1221.7,481.2 M1212.0,482.0 L1212.0,489.3 M1217.0,482.0 L1217.0,489.3" stroke="#000" stroke-width="1.1" fill="none"/>
<path d="M1204.2,549.5 L1204.2,552.1 A10.3,5.6 0 0 0 1224.8,552.1 L1224.8,549.5" class="sw"/>
<ellipse cx="1214.5" cy="549.5" rx="10.3" ry="5.6" class="sw" />
<ellipse cx="1214.5" cy="549.5" rx="4.6" ry="2.5" class="s" />
<path d="M1209.9,549.5 A4.6,2.5 0 0 1 1219.1,549.5" stroke="#000" stroke-width="1" fill="none" transform="translate(0,1.2)"/>
<path d="M1207.1,633.5 L1207.1,669.5 A7.4,3.6 0 0 0 1221.9,669.5 L1221.9,633.5" class="sw"/>
<ellipse cx="1214.5" cy="633.5" rx="7.4" ry="3.6" class="sw" />
<ellipse cx="1214.5" cy="633.5" rx="4.1" ry="2.0" class="s" />
<ellipse cx="1214.4" cy="707.5" rx="15" ry="8.2" class="sw" stroke-width="2.2"/>
<ellipse cx="1214.4" cy="707.3" rx="3.2" ry="1.9" class="s" stroke-width="1.3"/>
<path d="M1317,606 Q1321.7,603 1327,606 L1327,643 L1317,643 Z" class="sw" stroke-width="1.8"/>
<path d="M1317,609 Q1322,610.6 1327,609" stroke="#000" stroke-width="1" fill="none"/>
<path d="M1317,612 Q1322,613.6 1327,612" stroke="#000" stroke-width="1" fill="none"/>
<path d="M1317,615 Q1322,616.6 1327,615" stroke="#000" stroke-width="1" fill="none"/>
<path d="M1317,618 Q1322,619.6 1327,618" stroke="#000" stroke-width="1" fill="none"/>
<path d="M1317,621 Q1322,622.6 1327,621" stroke="#000" stroke-width="1" fill="none"/>
<path d="M1317,624 Q1322,625.6 1327,624" stroke="#000" stroke-width="1" fill="none"/>
<path d="M1317,627 Q1322,628.6 1327,627" stroke="#000" stroke-width="1" fill="none"/>
<path d="M1312,644 Q1312,640 1321.8,640 Q1331.8,640 1331.8,644 L1331.8,650 Q1321.8,655 1312,650 Z" class="sw" stroke-width="1.8"/>
<path d="M1317,644 L1317,652 M1327,644 L1327,652 M1312,645 Q1321.8,648 1331.8,645" class="s" stroke-width="1"/>
<g transform="translate(1013.6,700.8) rotate(48.41)">
<rect x="0" y="-11.5" width="122.5" height="23.0" fill="#fff" stroke="none"/>
<path d="M0.00,-11.50 A6.00,11.50 0 0 0 0.00,11.50" stroke="#000" stroke-width="1.4" fill="none"/>
<path d="M4.08,-11.50 A6.00,11.50 0 0 0 4.08,11.50" stroke="#000" stroke-width="1.4" fill="none"/>
<path d="M8.17,-11.50 A6.00,11.50 0 0 0 8.17,11.50" stroke="#000" stroke-width="1.4" fill="none"/>
<path d="M12.25,-11.50 A6.00,11.50 0 0 0 12.25,11.50" stroke="#000" stroke-width="1.4" fill="none"/>
<path d="M16.33,-11.50 A6.00,11.50 0 0 0 16.33,11.50" stroke="#000" stroke-width="1.4" fill="none"/>
<path d="M20.41,-11.50 A6.00,11.50 0 0 0 20.41,11.50" stroke="#000" stroke-width="1.4" fill="none"/>
<path d="M24.50,-11.50 A6.00,11.50 0 0 0 24.50,11.50" stroke="#000" stroke-width="1.4" fill="none"/>
<path d="M28.58,-11.50 A6.00,11.50 0 0 0 28.58,11.50" stroke="#000" stroke-width="1.4" fill="none"/>
<path d="M32.66,-11.50 A6.00,11.50 0 0 0 32.66,11.50" stroke="#000" stroke-width="1.4" fill="none"/>
<path d="M36.74,-11.50 A6.00,11.50 0 0 0 36.74,11.50" stroke="#000" stroke-width="1.4" fill="none"/>
<path d="M40.83,-11.50 A6.00,11.50 0 0 0 40.83,11.50" stroke="#000" stroke-width="1.4" fill="none"/>
<path d="M44.91,-11.50 A6.00,11.50 0 0 0 44.91,11.50" stroke="#000" stroke-width="1.4" fill="none"/>
<path d="M48.99,-11.50 A6.00,11.50 0 0 0 48.99,11.50" stroke="#000" stroke-width="1.4" fill="none"/>
<path d="M53.07,-11.50 A6.00,11.50 0 0 0 53.07,11.50" stroke="#000" stroke-width="1.4" fill="none"/>
<path d="M57.16,-11.50 A6.00,11.50 0 0 0 57.16,11.50" stroke="#000" stroke-width="1.4" fill="none"/>
<path d="M61.24,-11.50 A6.00,11.50 0 0 0 61.24,11.50" stroke="#000" stroke-width="1.4" fill="none"/>
<path d="M65.32,-11.50 A6.00,11.50 0 0 0 65.32,11.50" stroke="#000" stroke-width="1.4" fill="none"/>
<path d="M69.40,-11.50 A6.00,11.50 0 0 0 69.40,11.50" stroke="#000" stroke-width="1.4" fill="none"/>
<path d="M73.49,-11.50 A6.00,11.50 0 0 0 73.49,11.50" stroke="#000" stroke-width="1.4" fill="none"/>
<path d="M77.57,-11.50 A6.00,11.50 0 0 0 77.57,11.50" stroke="#000" stroke-width="1.4" fill="none"/>
<path d="M81.65,-11.50 A6.00,11.50 0 0 0 81.65,11.50" stroke="#000" stroke-width="1.4" fill="none"/>
<path d="M85.73,-11.50 A6.00,11.50 0 0 0 85.73,11.50" stroke="#000" stroke-width="1.4" fill="none"/>
<path d="M89.82,-11.50 A6.00,11.50 0 0 0 89.82,11.50" stroke="#000" stroke-width="1.4" fill="none"/>
<path d="M93.90,-11.50 A6.00,11.50 0 0 0 93.90,11.50" stroke="#000" stroke-width="1.4" fill="none"/>
<path d="M97.98,-11.50 A6.00,11.50 0 0 0 97.98,11.50" stroke="#000" stroke-width="1.4" fill="none"/>
<path d="M102.06,-11.50 A6.00,11.50 0 0 0 102.06,11.50" stroke="#000" stroke-width="1.4" fill="none"/>
<path d="M106.15,-11.50 A6.00,11.50 0 0 0 106.15,11.50" stroke="#000" stroke-width="1.4" fill="none"/>
<path d="M110.23,-11.50 A6.00,11.50 0 0 0 110.23,11.50" stroke="#000" stroke-width="1.4" fill="none"/>
<path d="M114.31,-11.50 A6.00,11.50 0 0 0 114.31,11.50" stroke="#000" stroke-width="1.4" fill="none"/>
<path d="M118.39,-11.50 A6.00,11.50 0 0 0 118.39,11.50" stroke="#000" stroke-width="1.4" fill="none"/>
<path d="M122.48,-11.50 A6.00,11.50 0 0 0 122.48,11.50" stroke="#000" stroke-width="1.4" fill="none"/>
<path d="M0,-11.5 L122.5,-11.5 M0,11.5 L122.5,11.5" stroke="#000" stroke-width="1.4" fill="none"/>
</g>
<path d="M1022,694 C1012,686.5 1000,687 997.5,694 C996.5,698.5 999,701.5 1003,702" stroke="#000" stroke-width="1.9" fill="none"/>
<path d="M1103,786 C1110,790 1112,798 1108.5,803 C1105,806 1100,806 1096,804" stroke="#000" stroke-width="1.9" fill="none"/>
<ellipse cx="1091" cy="789" rx="5" ry="10" transform="rotate(48 1091 789)" stroke="#000" stroke-width="1.5" fill="none"/>
<path d="M333.9,1351.0 L333.9,1354.0 A6.5,5.5 0 0 0 346.9,1354.0 L346.9,1351.0" class="sw"/>
<ellipse cx="340.4" cy="1351.0" rx="6.5" ry="5.5" class="sw" />
<ellipse cx="340.4" cy="1351.0" rx="2.9" ry="2.5" class="s" />
<g transform="translate(368.5,1367.5) rotate(27)"><path d="M-14,-5.5 L12,-5.5 A3.5,5.5 0 0 1 12,5.5 L-14,5.5 A3.5,5.5 0 0 1 -14,-5.5 Z" class="sw" stroke-width="1.8"/><ellipse cx="12" cy="0" rx="3.5" ry="5.5" class="s" stroke-width="1.6"/><ellipse cx="12" cy="0" rx="1.5" ry="2.5" class="s" stroke-width="1"/></g>
<path d="M136.3,1518 L175.8,1474 Q182,1469 189.8,1471.6 Q194,1473 194.4,1478 L195,1485 L236.3,1504.2 L271.2,1490.3 Q283,1484 287.5,1481 Q298,1470 303.8,1453 L308.4,1429.8 L306,1388 Q306,1378 314,1376.3 L322.4,1375.3 Q331,1374 334,1383.3 L339.8,1425 L343.3,1441.4 L352.6,1446 L396.7,1471.6 L398,1441.4 Q402,1432 410,1430.5 L422.4,1429 Q429,1430 429.4,1436.8 L427.4,1532.1 L229.3,1618.2 Q224,1620 222.3,1618.2 L134,1567 Q132,1565 132.8,1562.4 Z" class="sw" stroke-width="2.9"/>
<path d="M136.3,1518 L134.5,1562 M138.6,1564.7 L324.7,1483.3 M140,1567 L326,1486 M234,1564.7 L229.3,1616 M234,1564.7 L271.2,1527.5 Q280,1522 285.1,1527.5 L286.3,1560 Q290,1567 296.8,1566 L313,1557.7 L329.3,1560 Q345,1557 352.6,1550.7 Q368,1538 375.9,1522.8 Q390,1500 396.7,1471.6" class="s" stroke-width="2.4"/>
<path d="M339.8,1425 L329.3,1425 Q326,1428 325,1440 L324.7,1483.3 M343.3,1441.4 Q345,1447 352.6,1448 M352.6,1448 L393,1471" class="s" stroke-width="1.6"/>
<path d="M195,1485 L198,1510 Q200,1515 207,1515 L215,1510 M229.3,1621 L427.4,1535" class="s" stroke-width="2.2"/>
<path d="M324.7,1483.3 L370,1513" class="s" stroke-width="1.2"/>
<path d="M183,1486 L263,1532" stroke="#000" stroke-width="8.4" stroke-linecap="round" fill="none"/><path d="M183,1486 L263,1532" stroke="#fff" stroke-width="4.4" stroke-linecap="round" fill="none"/>
<path d="M147.5,1520.5 L233,1565" stroke="#000" stroke-width="8.4" stroke-linecap="round" fill="none"/><path d="M147.5,1520.5 L233,1565" stroke="#fff" stroke-width="4.4" stroke-linecap="round" fill="none"/>
<ellipse cx="324.7" cy="1394.0" rx="7.0" ry="9.0" class="sw" stroke-width="1.8"/>
<ellipse cx="326.2" cy="1394.5" rx="4.2" ry="5.9" class="s" stroke-width="1.4"/>
<ellipse cx="410.8" cy="1446.0" rx="6.5" ry="8.0" class="sw" stroke-width="1.8"/>
<ellipse cx="412.3" cy="1446.5" rx="3.9" ry="5.2" class="s" stroke-width="1.4"/>
<ellipse cx="410.8" cy="1490.0" rx="6.0" ry="7.0" class="sw" stroke-width="1.8"/>
<ellipse cx="412.3" cy="1490.5" rx="3.6" ry="4.5" class="s" stroke-width="1.4"/>
<ellipse cx="243.3" cy="1576.0" rx="4.0" ry="4.5" class="sw" stroke-width="1.8"/>
<ellipse cx="244.8" cy="1576.5" rx="2.4" ry="2.9" class="s" stroke-width="1.4"/>
<ellipse cx="279.3" cy="1539.0" rx="3.5" ry="4.0" class="sw" stroke-width="1.8"/>
<ellipse cx="280.8" cy="1539.5" rx="2.1" ry="2.6" class="s" stroke-width="1.4"/>
<ellipse cx="313.0" cy="1434.4" rx="4.5" ry="5.5" class="sw" stroke-width="1.8"/>
<ellipse cx="314.5" cy="1434.9" rx="2.7" ry="3.6" class="s" stroke-width="1.4"/>
<ellipse cx="185.0" cy="1499.6" rx="2.2" ry="3.0" class="s" stroke-width="1.3"/>
<ellipse cx="317.0" cy="1447.0" rx="2.2" ry="3.0" class="s" stroke-width="1.3"/>
<ellipse cx="279.0" cy="1551.0" rx="2.2" ry="3.0" class="s" stroke-width="1.3"/>
<ellipse cx="410.0" cy="1502.0" rx="2.2" ry="3.0" class="s" stroke-width="1.3"/>
<path d="M104,1455 L134,1440" stroke="#000" stroke-width="7" fill="none" stroke-linecap="round" stroke-linejoin="round"/><path d="M104,1455 L134,1440" stroke="#fff" stroke-width="3" fill="none" stroke-linecap="round" stroke-linejoin="round"/>
<ellipse cx="140.4" cy="1456" rx="11" ry="16" stroke="#000" stroke-width="6.2" fill="none"/>
<ellipse cx="140.4" cy="1456" rx="11" ry="16" stroke="#fff" stroke-width="2.4" fill="none"/>
<ellipse cx="137.5" cy="1457" rx="5.5" ry="9" stroke="#000" stroke-width="1.6" fill="none" transform="rotate(15 137.5 1457)"/>
<path d="M119,1456 C115,1462 116,1470 121,1475 M124,1453 L135,1467" stroke="#000" stroke-width="1.5" fill="none"/>
<path d="M86,1466 L98,1460 Q103,1457 103.5,1463 L104.5,1486 Q106,1493 113,1490 L140,1474" stroke="#000" stroke-width="7.6" fill="none" stroke-linecap="round" stroke-linejoin="round"/><path d="M86,1466 L98,1460 Q103,1457 103.5,1463 L104.5,1486 Q106,1493 113,1490 L140,1474" stroke="#fff" stroke-width="3.2" fill="none" stroke-linecap="round" stroke-linejoin="round"/>
<path d="M92,1470 L93,1472" stroke="#000" stroke-width="5" fill="none" stroke-linecap="round" stroke-linejoin="round"/><path d="M92,1470 L93,1472" stroke="#fff" stroke-width="2.2" fill="none" stroke-linecap="round" stroke-linejoin="round"/>
<path d="M345,1593 L470,1661 Q473.5,1663 473.5,1668 L473.5,1708" stroke="#000" stroke-width="8.6" fill="none" stroke-linecap="round" stroke-linejoin="round"/>
<path d="M345,1593 L470,1661 Q473.5,1663 473.5,1668 L473.5,1708" stroke="#fff" stroke-width="4.2" fill="none" stroke-linecap="round" stroke-linejoin="round"/>
<ellipse cx="345.5" cy="1591.5" rx="1.3" ry="1.3" class="s" stroke-width="1"/>
<g transform="translate(622,1379) rotate(28)"><path d="M-16,-4.5 L12,-4.5 L12,4.5 L-16,4.5 Q-18,0 -16,-4.5 Z" class="sw" stroke-width="1.8"/><path d="M-13,-4.5 L-13,4.5 M-10.5,-4.5 L-10.5,4.5 M-8,-4.5 L-8,4.5 M-5.5,-4.5 L-5.5,4.5" class="s" stroke-width="1"/><path d="M12,-8 L16,-9 L21,-6 L22,0 L21,6 L16,9 L12,8 Q9,0 12,-8 Z" class="sw" stroke-width="2"/><path d="M12,-8 Q15,0 12,8 M16,-9 Q19,0 16,9" class="s" stroke-width="1.1"/></g>
<path d="M640.5,1424 L641,1430 L644,1434 L653,1434 L656,1430 L656.3,1424" class="sw" stroke-width="1.8"/>
<ellipse cx="648.4" cy="1423.5" rx="8.0" ry="4.5" class="sw" stroke-width="1.8"/>
<rect x="645" y="1421" width="7" height="3" fill="#000"/>
<path d="M644.5,1427 L644.5,1434 M652.5,1427 L652.5,1434" class="s" stroke-width="1"/>
</g>
<path d="M134.5,1464.0 L164.7,1482.7" class="d"/>
<path d="M191.2,1501.9 L217.6,1518.2" class="d"/>
<path d="M274.3,1553.5 L342.3,1592.6" class="d"/>
<path d="M404.3,796.0 L404.3,813.0" class="d"/>
<path d="M404.3,796.0 L263.0,874.0 L291.0,889.0" class="d"/>
<g id="leaders">
<line x1="1092.7" y1="28.2" x2="1165.4" y2="36.3" class="t"/>
<line x1="1091.8" y1="71.2" x2="1186.2" y2="88.5" class="t"/>
<line x1="1090.0" y1="95.4" x2="1196.2" y2="141.7" class="t"/>
<line x1="1091.8" y1="116.3" x2="1195.3" y2="144.5" class="t"/>
<line x1="949.4" y1="106.7" x2="1049.0" y2="144.4" class="t"/>
<line x1="862.9" y1="143.6" x2="959.9" y2="179.2" class="t"/>
<line x1="966.5" y1="321.5" x2="1070.7" y2="240.0" class="t"/>
<line x1="971.0" y1="333.3" x2="1070.7" y2="323.5" class="t"/>
<line x1="332.8" y1="298.5" x2="393.9" y2="342.7" class="t"/>
<line x1="185.5" y1="500.8" x2="255.7" y2="517.5" class="t"/>
<line x1="277.5" y1="549.6" x2="334.0" y2="554.0" class="t"/>
<line x1="156.4" y1="573.7" x2="232.3" y2="583.0" class="t"/>
<line x1="152.0" y1="628.8" x2="247.4" y2="636.0" class="t"/>
<line x1="167.0" y1="679.0" x2="250.7" y2="660.6" class="t"/>
<line x1="167.0" y1="684.7" x2="250.7" y2="686.6" class="t"/>
<line x1="402.8" y1="619.8" x2="354.4" y2="653.9" class="t"/>
<line x1="416.2" y1="678.0" x2="352.7" y2="683.3" class="t"/>
<line x1="441.5" y1="753.0" x2="379.5" y2="793.8" class="t"/>
<line x1="202.0" y1="895.0" x2="246.9" y2="928.0" class="t"/>
<line x1="311.0" y1="1001.0" x2="343.7" y2="1038.0" class="t"/>
<line x1="724.3" y1="708.6" x2="770.0" y2="674.5" class="t"/>
<line x1="726.0" y1="744.0" x2="791.0" y2="725.0" class="t"/>
<line x1="745.8" y1="797.5" x2="823.0" y2="789.4" class="t"/>
<line x1="730.5" y1="847.0" x2="801.0" y2="850.7" class="t"/>
<line x1="726.8" y1="872.0" x2="799.7" y2="901.0" class="t"/>
<line x1="729.0" y1="891.4" x2="799.7" y2="906.3" class="t"/>
<line x1="914.0" y1="889.8" x2="960.7" y2="861.8" class="t"/>
<line x1="897.5" y1="533.0" x2="944.4" y2="555.6" class="t"/>
<line x1="1130.8" y1="502.0" x2="1203.0" y2="505.0" class="t"/>
<line x1="1259.0" y1="522.0" x2="1229.0" y2="545.5" class="t"/>
<line x1="1143.0" y1="681.0" x2="1202.0" y2="657.0" class="t"/>
<line x1="1154.0" y1="752.5" x2="1193.8" y2="718.8" class="t"/>
<line x1="1317.5" y1="705.6" x2="1321.0" y2="657.0" class="t"/>
<line x1="972.5" y1="779.5" x2="1030.6" y2="748.8" class="t"/>
<line x1="378.2" y1="1301.6" x2="350.0" y2="1346.0" class="t"/>
<line x1="436.0" y1="1326.0" x2="376.3" y2="1359.0" class="t"/>
<line x1="80.8" y1="1381.0" x2="117.5" y2="1435.7" class="t"/>
<line x1="501.0" y1="1600.0" x2="440.6" y2="1630.0" class="t"/>
<line x1="291.3" y1="1668.0" x2="251.6" y2="1617.0" class="t"/>
<line x1="614.7" y1="1383.0" x2="605.6" y2="1437.0" class="t"/>
<line x1="648.4" y1="1439.4" x2="672.8" y2="1493.5" class="t"/>
</g>
<g id="labels">
<path d="M1189.41,25.00 L1193.75,25.00 L1193.75,46.70 L1189.41,46.70 L1189.41,30.64 L1184.20,31.51 L1184.20,28.25 Q1188.32,27.60 1189.41,25.00 Z" fill="#000"/>
<text transform="translate(1197.53,46.70) scale(0.814,1)" font-size="31.00">3</text>
<text transform="translate(1203.26,100.40) scale(0.794,1)" font-size="30.93">3</text>
<text transform="translate(1217.64,100.40) scale(0.794,1)" font-size="30.93">5</text>
<path d="M1218.84,137.10 L1223.08,137.10 L1223.08,158.30 L1218.84,158.30 L1218.84,142.61 L1213.75,143.46 L1213.75,140.28 Q1217.78,139.64 1218.84,137.10 Z" fill="#000"/>
<path d="M1232.86,137.10 L1237.10,137.10 L1237.10,158.30 L1232.86,158.30 L1232.86,142.61 L1227.77,143.46 L1227.77,140.28 Q1231.80,139.64 1232.86,137.10 Z" fill="#000"/>
<path d="M928.21,84.10 L932.47,84.10 L932.47,105.40 L928.21,105.40 L928.21,89.64 L923.10,90.49 L923.10,87.30 Q927.15,86.66 928.21,84.10 Z" fill="#000"/>
<text transform="translate(935.83,105.40) scale(0.849,1)" font-size="30.43">0</text>
<path d="M841.51,121.90 L845.77,121.90 L845.77,143.20 L841.51,143.20 L841.51,127.44 L836.40,128.29 L836.40,125.09 Q840.45,124.46 841.51,121.90 Z" fill="#000"/>
<text transform="translate(849.72,143.20) scale(0.814,1)" font-size="30.43">5</text>
<text transform="translate(941.95,343.80) scale(0.833,1)" font-size="30.00">2</text>
<text transform="translate(956.19,343.80) scale(0.850,1)" font-size="30.00">0</text>
<text transform="translate(304.07,292.50) scale(0.790,1)" font-size="30.86">2</text>
<text transform="translate(318.38,292.50) scale(0.774,1)" font-size="30.86">5</text>
<text transform="translate(148.48,503.40) scale(0.765,1)" font-size="31.14">2</text>
<text transform="translate(162.26,503.40) scale(0.799,1)" font-size="31.14">7</text>
<text transform="translate(342.84,565.20) scale(0.805,1)" font-size="29.71">7</text>
<text transform="translate(118.95,579.30) scale(0.825,1)" font-size="30.14">2</text>
<text transform="translate(133.44,579.30) scale(0.808,1)" font-size="30.14">8</text>
<text transform="translate(114.52,634.70) scale(0.798,1)" font-size="30.14">3</text>
<text transform="translate(128.86,634.70) scale(0.752,1)" font-size="30.14">4</text>
<path d="M143.96,671.50 L148.18,671.50 L148.18,692.60 L143.96,692.60 L143.96,676.99 L138.90,677.83 L138.90,674.66 Q142.91,674.03 143.96,671.50 Z" fill="#000"/>
<path d="M158.08,671.50 L162.30,671.50 L162.30,692.60 L158.08,692.60 L158.08,676.99 L153.02,677.83 L153.02,674.66 Q157.03,674.03 158.08,671.50 Z" fill="#000"/>
<text transform="translate(409.41,613.30) scale(0.767,1)" font-size="31.71">3</text>
<text transform="translate(424.00,613.30) scale(0.767,1)" font-size="31.71">3</text>
<text transform="translate(426.91,683.70) scale(0.800,1)" font-size="30.43">3</text>
<text transform="translate(441.13,683.70) scale(0.816,1)" font-size="30.43">2</text>
<text transform="translate(449.63,749.30) scale(0.771,1)" font-size="30.29">3</text>
<path d="M468.96,728.10 L473.20,728.10 L473.20,749.30 L468.96,749.30 L468.96,733.61 L463.87,734.46 L463.87,731.28 Q467.90,730.64 468.96,728.10 Z" fill="#000"/>
<text transform="translate(171.11,890.80) scale(0.805,1)" font-size="30.71">3</text>
<text transform="translate(185.26,890.80) scale(0.839,1)" font-size="30.71">0</text>
<path d="M289.60,969.30 L293.68,969.30 L293.68,989.70 L289.60,989.70 L289.60,974.60 L284.70,975.42 L284.70,972.36 Q288.58,971.75 289.60,969.30 Z" fill="#000"/>
<text transform="translate(297.92,989.70) scale(0.767,1)" font-size="29.14">4</text>
<text transform="translate(777.79,667.70) scale(0.791,1)" font-size="30.00">2</text>
<text transform="translate(791.42,667.70) scale(0.825,1)" font-size="30.00">7</text>
<text transform="translate(801.67,726.80) scale(0.892,1)" font-size="29.00">7</text>
<text transform="translate(834.76,796.00) scale(0.826,1)" font-size="30.00">2</text>
<text transform="translate(849.18,796.00) scale(0.809,1)" font-size="30.00">8</text>
<text transform="translate(812.21,860.70) scale(0.829,1)" font-size="29.57">3</text>
<text transform="translate(826.73,860.70) scale(0.781,1)" font-size="29.57">4</text>
<path d="M821.44,898.20 L825.56,898.20 L825.56,918.80 L821.44,918.80 L821.44,903.56 L816.50,904.38 L816.50,901.29 Q820.41,900.67 821.44,898.20 Z" fill="#000"/>
<path d="M836.18,898.20 L840.30,898.20 L840.30,918.80 L836.18,918.80 L836.18,903.56 L831.24,904.38 L831.24,901.29 Q835.15,900.67 836.18,898.20 Z" fill="#000"/>
<text transform="translate(969.26,857.80) scale(0.840,1)" font-size="29.43">2</text>
<text transform="translate(983.59,857.80) scale(0.840,1)" font-size="29.43">2</text>
<path d="M874.76,510.20 L878.90,510.20 L878.90,530.90 L874.76,530.90 L874.76,515.58 L869.80,516.41 L869.80,513.30 Q873.73,512.68 874.76,510.20 Z" fill="#000"/>
<text transform="translate(1101.72,509.90) scale(0.848,1)" font-size="30.57">8</text>
<text transform="translate(1267.22,516.00) scale(0.835,1)" font-size="29.43">7</text>
<text transform="translate(1109.22,698.40) scale(0.780,1)" font-size="30.57">4</text>
<text transform="translate(1124.84,775.30) scale(0.891,1)" font-size="29.86">9</text>
<text transform="translate(1302.50,741.50) scale(0.898,1)" font-size="30.57">6</text>
<text transform="translate(936.37,802.80) scale(0.845,1)" font-size="31.14">3</text>
<text transform="translate(381.26,1289.00) scale(0.825,1)" font-size="29.71">2</text>
<path d="M401.04,1268.20 L405.20,1268.20 L405.20,1289.00 L401.04,1289.00 L401.04,1273.61 L396.05,1274.44 L396.05,1271.32 Q400.00,1270.70 401.04,1268.20 Z" fill="#000"/>
<text transform="translate(438.25,1324.60) scale(0.784,1)" font-size="27.71">2</text>
<text transform="translate(450.78,1324.60) scale(0.801,1)" font-size="27.71">9</text>
<text transform="translate(54.74,1371.90) scale(0.813,1)" font-size="28.29">3</text>
<text transform="translate(67.88,1371.90) scale(0.847,1)" font-size="28.29">6</text>
<text transform="translate(510.41,1600.40) scale(0.718,1)" font-size="27.57">2</text>
<text transform="translate(293.63,1693.40) scale(0.833,1)" font-size="26.71">2</text>
<text transform="translate(306.31,1693.40) scale(0.850,1)" font-size="26.71">6</text>
<text transform="translate(591.28,1468.50) scale(0.806,1)" font-size="29.86">2</text>
<text transform="translate(605.58,1468.50) scale(0.789,1)" font-size="29.86">3</text>
<text transform="translate(666.47,1522.00) scale(0.815,1)" font-size="30.00">2</text>
<text transform="translate(680.73,1522.00) scale(0.815,1)" font-size="30.00">2</text>
</g>
<g id="logo" class="logo">
<text x="1216" y="1785" font-size="38" class="logo" textLength="130" lengthAdjust="spacingAndGlyphs" stroke-width="0.5" style="paint-order:stroke"><tspan fill="#4a6cc0" stroke="#4a6cc0">m</tspan><tspan fill="#44aa3c" stroke="#44aa3c">o</tspan><tspan fill="#e46aac" stroke="#e46aac">t</tspan><tspan fill="#25a043" stroke="#25a043">o</tspan><tspan fill="#e4521e" stroke="#e4521e">r</tspan><tspan fill="#f0a024" stroke="#f0a024">u</tspan><tspan fill="#f2c41c" stroke="#f2c41c">f</tspan></text>
<text x="1345" y="1785" font-size="18" fill="#333" class="logo" textLength="19.5" lengthAdjust="spacingAndGlyphs">.de</text>
<circle cx="1350" cy="1760" r="0.9" fill="#555"/>
</g>
</svg></body></html>
